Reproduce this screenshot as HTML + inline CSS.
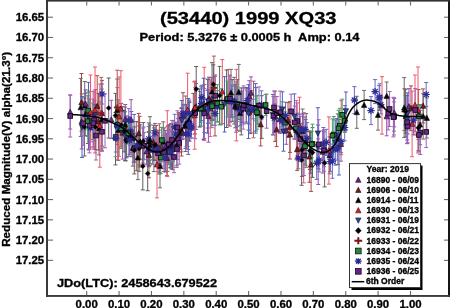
<!DOCTYPE html><html><head><meta charset="utf-8"><style>html,body{margin:0;padding:0;background:#fff;width:450px;height:308px;overflow:hidden}svg{display:block;filter:blur(0.3px)}text{font-family:"Liberation Sans",sans-serif;font-weight:bold;stroke:#000;stroke-width:0.32px;paint-order:stroke}</style></head><body>
<svg width="450" height="308" viewBox="0 0 450 308">
<rect width="450" height="308" fill="#fff"/>
<g stroke-width="1" fill="none"><path d="M125.3,104.5V134.0M123.3,104.5H127.3M123.3,134.0H127.3" stroke="#9a50b4"/><path d="M161.7,127.4V166.1M159.7,127.4H163.7M159.7,166.1H163.7" stroke="#9a50b4"/><path d="M249.3,80.7V112.1M247.3,80.7H251.3M247.3,112.1H251.3" stroke="#9a50b4"/><path d="M199.9,91.6V126.3M197.9,91.6H201.9M197.9,126.3H201.9" stroke="#9a50b4"/><path d="M131.3,111.5V152.4M129.3,111.5H133.3M129.3,152.4H133.3" stroke="#9a50b4"/><path d="M122.6,106.4V159.1M120.6,106.4H124.6M120.6,159.1H124.6" stroke="#9a50b4"/><path d="M111.3,100.3V138.6M109.3,100.3H113.3M109.3,138.6H113.3" stroke="#9a50b4"/><path d="M81.7,93.9V148.9M79.7,93.9H83.7M79.7,148.9H83.7" stroke="#9a50b4"/><path d="M322.7,130.8V173.0M320.7,130.8H324.7M320.7,173.0H324.7" stroke="#9a50b4"/><path d="M318.2,138.9V184.5M316.2,138.9H320.2M316.2,184.5H320.2" stroke="#9a50b4"/><path d="M186.5,104.9V148.3M184.5,104.9H188.5M184.5,148.3H188.5" stroke="#9a50b4"/><path d="M229.8,75.9V126.1M227.8,75.9H231.8M227.8,126.1H231.8" stroke="#9a50b4"/><path d="M305.6,119.5V165.2M303.6,119.5H307.6M303.6,165.2H307.6" stroke="#9a50b4"/><path d="M128.9,116.8V156.5M126.9,116.8H130.9M126.9,156.5H130.9" stroke="#9a50b4"/><path d="M158.3,136.2V165.0M156.3,136.2H160.3M156.3,165.0H160.3" stroke="#9a50b4"/><path d="M196.1,83.5V129.5M194.1,83.5H198.1M194.1,129.5H198.1" stroke="#9a50b4"/><path d="M149.1,132.3V166.8M147.1,132.3H151.1M147.1,166.8H151.1" stroke="#9a50b4"/><path d="M169.2,124.6V162.7M167.2,124.6H171.2M167.2,162.7H171.2" stroke="#9a50b4"/><path d="M189.3,101.3V140.1M187.3,101.3H191.3M187.3,140.1H191.3" stroke="#9a50b4"/><path d="M131.1,99.7V140.2M129.1,99.7H133.1M129.1,140.2H133.1" stroke="#9a50b4"/><path d="M142.8,128.0V162.9M140.8,128.0H144.8M140.8,162.9H144.8" stroke="#9a50b4"/><path d="M94.3,100.6V141.2M92.3,100.6H96.3M92.3,141.2H96.3" stroke="#9a50b4"/><path d="M152.9,130.6V160.0M150.9,130.6H154.9M150.9,160.0H154.9" stroke="#9a50b4"/><path d="M126.2,115.9V143.8M124.2,115.9H128.2M124.2,143.8H128.2" stroke="#9a50b4"/><path d="M95.4,89.6V135.4M93.4,89.6H97.4M93.4,135.4H97.4" stroke="#9a50b4"/><path d="M279.6,106.1V132.6M277.6,106.1H281.6M277.6,132.6H281.6" stroke="#9a50b4"/><path d="M180.6,116.2V149.7M178.6,116.2H182.6M178.6,149.7H182.6" stroke="#9a50b4"/><path d="M345.1,105.6V131.9M343.1,105.6H347.1M343.1,131.9H347.1" stroke="#9a50b4"/><path d="M179.3,114.3V148.1M177.3,114.3H181.3M177.3,148.1H181.3" stroke="#9a50b4"/><path d="M211.7,77.7V119.7M209.7,77.7H213.7M209.7,119.7H213.7" stroke="#9a50b4"/><path d="M181.4,108.6V151.8M179.4,108.6H183.4M179.4,151.8H183.4" stroke="#a84848"/><path d="M102.0,80.4V146.2M100.0,80.4H104.0M100.0,146.2H104.0" stroke="#a84848"/><path d="M423.1,88.9V123.0M421.1,88.9H425.1M421.1,123.0H425.1" stroke="#a84848"/><path d="M215.0,76.3V135.9M213.0,76.3H217.0M213.0,135.9H217.0" stroke="#a84848"/><path d="M98.4,93.3V150.1M96.4,93.3H100.4M96.4,150.1H100.4" stroke="#a84848"/><path d="M164.2,127.9V171.5M162.2,127.9H166.2M162.2,171.5H166.2" stroke="#a84848"/><path d="M311.1,138.1V191.4M309.1,138.1H313.1M309.1,191.4H313.1" stroke="#a84848"/><path d="M181.5,107.7V156.0M179.5,107.7H183.5M179.5,156.0H183.5" stroke="#a84848"/><path d="M178.7,112.4V152.8M176.7,112.4H180.7M176.7,152.8H180.7" stroke="#a84848"/><path d="M237.3,79.6V130.4M235.3,79.6H239.3M235.3,130.4H239.3" stroke="#a84848"/><path d="M275.1,91.1V141.4M273.1,91.1H277.1M273.1,141.4H277.1" stroke="#a84848"/><path d="M167.0,140.4V175.7M165.0,140.4H169.0M165.0,175.7H169.0" stroke="#a84848"/><path d="M97.2,75.7V136.4M95.2,75.7H99.2M95.2,136.4H99.2" stroke="#a84848"/><path d="M411.0,85.9V130.7M409.0,85.9H413.0M409.0,130.7H413.0" stroke="#a84848"/><path d="M209.0,77.2V119.8M207.0,77.2H211.0M207.0,119.8H211.0" stroke="#a84848"/><path d="M194.5,81.9V134.1M192.5,81.9H196.5M192.5,134.1H196.5" stroke="#a84848"/><path d="M149.0,132.2V177.8M147.0,132.2H151.0M147.0,177.8H151.0" stroke="#a84848"/><path d="M418.4,89.5V139.3M416.4,89.5H420.4M416.4,139.3H420.4" stroke="#a84848"/><path d="M156.3,125.5V165.1M154.3,125.5H158.3M154.3,165.1H158.3" stroke="#a84848"/><path d="M139.6,116.3V167.0M137.6,116.3H141.6M137.6,167.0H141.6" stroke="#a84848"/><path d="M81.5,73.5V131.2M79.5,73.5H83.5M79.5,131.2H83.5" stroke="#a84848"/><path d="M139.3,122.7V164.9M137.3,122.7H141.3M137.3,164.9H141.3" stroke="#a84848"/><path d="M136.3,121.5V170.8M134.3,121.5H138.3M134.3,170.8H138.3" stroke="#a84848"/><path d="M153.5,125.2V159.7M151.5,125.2H155.5M151.5,159.7H155.5" stroke="#a84848"/><path d="M183.0,92.7V138.9M181.0,92.7H185.0M181.0,138.9H185.0" stroke="#a84848"/><path d="M167.5,126.7V171.4M165.5,126.7H169.5M165.5,171.4H169.5" stroke="#a84848"/><path d="M132.8,129.8V166.1M130.8,129.8H134.8M130.8,166.1H134.8" stroke="#6a6a6a"/><path d="M101.8,89.0V150.3M99.8,89.0H103.8M99.8,150.3H103.8" stroke="#6a6a6a"/><path d="M132.0,120.0V156.8M130.0,120.0H134.0M130.0,156.8H134.0" stroke="#6a6a6a"/><path d="M204.4,84.6V132.4M202.4,84.6H206.4M202.4,132.4H206.4" stroke="#6a6a6a"/><path d="M207.6,79.2V128.0M205.6,79.2H209.6M205.6,128.0H209.6" stroke="#6a6a6a"/><path d="M153.9,127.9V171.6M151.9,127.9H155.9M151.9,171.6H155.9" stroke="#6a6a6a"/><path d="M140.3,124.8V159.0M138.3,124.8H142.3M138.3,159.0H142.3" stroke="#6a6a6a"/><path d="M231.0,69.3V116.2M229.0,69.3H233.0M229.0,116.2H233.0" stroke="#6a6a6a"/><path d="M234.2,77.3V124.0M232.2,77.3H236.2M232.2,124.0H236.2" stroke="#6a6a6a"/><path d="M420.1,104.7V144.7M418.1,104.7H422.1M418.1,144.7H422.1" stroke="#6a6a6a"/><path d="M238.8,64.4V119.6M236.8,64.4H240.8M236.8,119.6H240.8" stroke="#6a6a6a"/><path d="M125.2,107.0V142.6M123.2,107.0H127.2M123.2,142.6H127.2" stroke="#6a6a6a"/><path d="M118.3,99.9V160.4M116.3,99.9H120.3M116.3,160.4H120.3" stroke="#6a6a6a"/><path d="M302.6,109.0V153.0M300.6,109.0H304.6M300.6,153.0H304.6" stroke="#6a6a6a"/><path d="M99.0,101.9V154.9M97.0,101.9H101.0M97.0,154.9H101.0" stroke="#6a6a6a"/><path d="M87.9,95.8V143.5M85.9,95.8H89.9M85.9,143.5H89.9" stroke="#6a6a6a"/><path d="M168.3,125.5V164.7M166.3,125.5H170.3M166.3,164.7H170.3" stroke="#6a6a6a"/><path d="M185.7,96.0V151.5M183.7,96.0H187.7M183.7,151.5H187.7" stroke="#6a6a6a"/><path d="M404.4,88.8V130.6M402.4,88.8H406.4M402.4,130.6H406.4" stroke="#6a6a6a"/><path d="M171.1,123.5V167.6M169.1,123.5H173.1M169.1,167.6H173.1" stroke="#6a6a6a"/><path d="M240.1,94.9V131.2M238.1,94.9H242.1M238.1,131.2H242.1" stroke="#6a6a6a"/><path d="M186.3,104.4V146.8M184.3,104.4H188.3M184.3,146.8H188.3" stroke="#6a6a6a"/><path d="M246.4,87.5V123.2M244.4,87.5H248.4M244.4,123.2H248.4" stroke="#6a6a6a"/><path d="M149.7,124.8V165.4M147.7,124.8H151.7M147.7,165.4H151.7" stroke="#6a6a6a"/><path d="M405.7,95.4V136.8M403.7,95.4H407.7M403.7,136.8H407.7" stroke="#6a6a6a"/><path d="M159.1,130.1V174.1M157.1,130.1H161.1M157.1,174.1H161.1" stroke="#6a6a6a"/><path d="M85.3,93.3V135.6M83.3,93.3H87.3M83.3,135.6H87.3" stroke="#6a6a6a"/><path d="M88.8,91.1V149.1M86.8,91.1H90.8M86.8,149.1H90.8" stroke="#6a6a6a"/><path d="M306.2,113.6V167.3M304.2,113.6H308.2M304.2,167.3H308.2" stroke="#6a6a6a"/><path d="M163.3,121.8V161.7M161.3,121.8H165.3M161.3,161.7H165.3" stroke="#6a6a6a"/><path d="M329.6,136.9V173.9M327.6,136.9H331.6M327.6,173.9H331.6" stroke="#6a6a6a"/><path d="M84.7,81.5V129.8M82.7,81.5H86.7M82.7,129.8H86.7" stroke="#6a6a6a"/><path d="M93.1,91.6V147.0M91.1,91.6H95.1M91.1,147.0H95.1" stroke="#f0586a"/><path d="M210.3,79.8V136.6M208.3,79.8H212.3M208.3,136.6H212.3" stroke="#f0586a"/><path d="M167.3,110.7V176.6M165.3,110.7H169.3M165.3,176.6H169.3" stroke="#f0586a"/><path d="M382.0,76.7V134.1M380.0,76.7H384.0M380.0,134.1H384.0" stroke="#f0586a"/><path d="M119.2,76.9V156.3M117.2,76.9H121.2M117.2,156.3H121.2" stroke="#f0586a"/><path d="M187.6,73.2V146.4M185.6,73.2H189.6M185.6,146.4H189.6" stroke="#f0586a"/><path d="M412.1,91.1V156.7M410.1,91.1H414.1M410.1,156.7H414.1" stroke="#f0586a"/><path d="M341.2,100.7V154.7M339.2,100.7H343.2M339.2,154.7H343.2" stroke="#f0586a"/><path d="M194.7,81.5V149.2M192.7,81.5H196.7M192.7,149.2H196.7" stroke="#f0586a"/><path d="M236.4,69.4V140.9M234.4,69.4H238.4M234.4,140.9H238.4" stroke="#f0586a"/><path d="M303.7,112.6V182.9M301.7,112.6H305.7M301.7,182.9H305.7" stroke="#f0586a"/><path d="M299.5,97.2V154.2M297.5,97.2H301.5M297.5,154.2H301.5" stroke="#f0586a"/><path d="M204.2,67.3V140.6M202.2,67.3H206.2M202.2,140.6H206.2" stroke="#f0586a"/><path d="M173.1,120.7V167.3M171.1,120.7H175.1M171.1,167.3H175.1" stroke="#f0586a"/><path d="M296.4,100.5V159.4M294.4,100.5H298.4M294.4,159.4H298.4" stroke="#f0586a"/><path d="M117.4,87.6V159.7M115.4,87.6H119.4M115.4,159.7H119.4" stroke="#f0586a"/><path d="M99.8,84.0V167.2M97.8,84.0H101.8M97.8,167.2H101.8" stroke="#f0586a"/><path d="M208.0,79.2V123.3M206.0,79.2H210.0M206.0,123.3H210.0" stroke="#5060c0"/><path d="M318.1,125.0V168.6M316.1,125.0H320.1M316.1,168.6H320.1" stroke="#5060c0"/><path d="M207.5,90.4V133.2M205.5,90.4H209.5M205.5,133.2H209.5" stroke="#5060c0"/><path d="M339.0,119.5V175.0M337.0,119.5H341.0M337.0,175.0H341.0" stroke="#5060c0"/><path d="M255.6,83.6V133.2M253.6,83.6H257.6M253.6,133.2H257.6" stroke="#5060c0"/><path d="M294.4,93.9V139.1M292.4,93.9H296.4M292.4,139.1H296.4" stroke="#5060c0"/><path d="M272.9,94.5V134.8M270.9,94.5H274.9M270.9,134.8H274.9" stroke="#5060c0"/><path d="M407.1,95.6V143.6M405.1,95.6H409.1M405.1,143.6H409.1" stroke="#5060c0"/><path d="M188.3,98.6V154.4M186.3,98.6H190.3M186.3,154.4H190.3" stroke="#5060c0"/><path d="M256.0,87.6V131.1M254.0,87.6H258.0M254.0,131.1H258.0" stroke="#5060c0"/><path d="M335.3,119.9V165.1M333.3,119.9H337.3M333.3,165.1H337.3" stroke="#5060c0"/><path d="M181.8,100.5V139.6M179.8,100.5H183.8M179.8,139.6H183.8" stroke="#5060c0"/><path d="M407.7,92.9V134.0M405.7,92.9H409.7M405.7,134.0H409.7" stroke="#5060c0"/><path d="M283.5,111.8V151.2M281.5,111.8H285.5M281.5,151.2H285.5" stroke="#5060c0"/><path d="M250.1,92.4V133.7M248.1,92.4H252.1M248.1,133.7H252.1" stroke="#5060c0"/><path d="M224.5,76.6V132.0M222.5,76.6H226.5M222.5,132.0H226.5" stroke="#5060c0"/><path d="M88.5,82.4V149.9M86.5,82.4H90.5M86.5,149.9H90.5" stroke="#5060c0"/><path d="M282.4,91.8V126.8M280.4,91.8H284.4M280.4,126.8H284.4" stroke="#5060c0"/><path d="M297.8,113.1V156.8M295.8,113.1H299.8M295.8,156.8H299.8" stroke="#5060c0"/><path d="M310.6,132.5V173.3M308.6,132.5H312.6M308.6,173.3H312.6" stroke="#5060c0"/><path d="M125.0,111.8V160.6M123.0,111.8H127.0M123.0,160.6H127.0" stroke="#5060c0"/><path d="M134.1,114.4V162.2M132.1,114.4H136.1M132.1,162.2H136.1" stroke="#5060c0"/><path d="M317.9,107.7V159.2M315.9,107.7H319.9M315.9,159.2H319.9" stroke="#5060c0"/><path d="M203.6,78.2V139.5M201.6,78.2H205.6M201.6,139.5H205.6" stroke="#5060c0"/><path d="M165.7,130.3V171.9M163.7,130.3H167.7M163.7,171.9H167.7" stroke="#5060c0"/><path d="M193.3,93.4V129.7M191.3,93.4H195.3M191.3,129.7H195.3" stroke="#5e5e5e"/><path d="M143.3,122.6V159.8M141.3,122.6H145.3M141.3,159.8H145.3" stroke="#5e5e5e"/><path d="M324.6,139.0V186.9M322.6,139.0H326.6M322.6,186.9H326.6" stroke="#5e5e5e"/><path d="M226.6,70.0V127.5M224.6,70.0H228.6M224.6,127.5H228.6" stroke="#5e5e5e"/><path d="M219.6,66.4V124.8M217.6,66.4H221.6M217.6,124.8H221.6" stroke="#5e5e5e"/><path d="M115.5,112.5V164.9M113.5,112.5H117.5M113.5,164.9H117.5" stroke="#5e5e5e"/><path d="M171.4,131.1V168.7M169.4,131.1H173.4M169.4,168.7H173.4" stroke="#5e5e5e"/><path d="M310.0,131.4V169.5M308.0,131.4H312.0M308.0,169.5H312.0" stroke="#5e5e5e"/><path d="M125.8,119.3V160.9M123.8,119.3H127.8M123.8,160.9H127.8" stroke="#5e5e5e"/><path d="M148.5,131.8V166.0M146.5,131.8H150.5M146.5,166.0H150.5" stroke="#5e5e5e"/><path d="M126.6,124.7V157.8M124.6,124.7H128.6M124.6,157.8H128.6" stroke="#5e5e5e"/><path d="M199.7,88.9V127.1M197.7,88.9H201.7M197.7,127.1H201.7" stroke="#5e5e5e"/><path d="M124.1,110.4V151.9M122.1,110.4H126.1M122.1,151.9H126.1" stroke="#5e5e5e"/><path d="M312.5,127.7V177.4M310.5,127.7H314.5M310.5,177.4H314.5" stroke="#5e5e5e"/><path d="M115.5,93.4V137.6M113.5,93.4H117.5M113.5,137.6H117.5" stroke="#5e5e5e"/><path d="M241.3,87.9V134.9M239.3,87.9H243.3M239.3,134.9H243.3" stroke="#5e5e5e"/><path d="M121.2,103.4V146.8M119.2,103.4H123.2M119.2,146.8H123.2" stroke="#5e5e5e"/><path d="M139.1,125.9V171.3M137.1,125.9H141.1M137.1,171.3H141.1" stroke="#5e5e5e"/><path d="M189.4,102.6V141.2M187.4,102.6H191.4M187.4,141.2H191.4" stroke="#5e5e5e"/><path d="M158.5,132.6V163.5M156.5,132.6H160.5M156.5,163.5H160.5" stroke="#5e5e5e"/><path d="M172.5,126.9V169.7M170.5,126.9H174.5M170.5,169.7H174.5" stroke="#5e5e5e"/><path d="M129.8,119.5V154.2M127.8,119.5H131.8M127.8,154.2H131.8" stroke="#5e5e5e"/><path d="M337.9,113.9V164.6M335.9,113.9H339.9M335.9,164.6H339.9" stroke="#5e5e5e"/><path d="M232.2,79.6V121.3M230.2,79.6H234.2M230.2,121.3H234.2" stroke="#5e5e5e"/><path d="M242.1,91.1V122.5M240.1,91.1H244.1M240.1,122.5H244.1" stroke="#5e5e5e"/><path d="M405.6,89.3V133.1M403.6,89.3H407.6M403.6,133.1H407.6" stroke="#5e5e5e"/><path d="M261.7,95.7V138.4M259.7,95.7H263.7M259.7,138.4H263.7" stroke="#5e5e5e"/><path d="M302.0,123.3V176.4M300.0,123.3H304.0M300.0,176.4H304.0" stroke="#5e5e5e"/><path d="M301.6,134.7V185.3M299.6,134.7H303.6M299.6,185.3H303.6" stroke="#5e5e5e"/><path d="M251.1,90.7V132.9M249.1,90.7H253.1M249.1,132.9H253.1" stroke="#b05a5a"/><path d="M213.9,56.1V119.7M211.9,56.1H215.9M211.9,119.7H215.9" stroke="#b05a5a"/><path d="M101.2,77.4V148.9M99.2,77.4H103.2M99.2,148.9H103.2" stroke="#b05a5a"/><path d="M159.4,123.8V172.4M157.4,123.8H161.4M157.4,172.4H161.4" stroke="#b05a5a"/><path d="M253.5,81.2V137.8M251.5,81.2H255.5M251.5,137.8H255.5" stroke="#b05a5a"/><path d="M228.3,69.5V125.2M226.3,69.5H230.3M226.3,125.2H230.3" stroke="#b05a5a"/><path d="M312.5,124.2V163.6M310.5,124.2H314.5M310.5,163.6H314.5" stroke="#48a064"/><path d="M121.0,107.7V148.5M119.0,107.7H123.0M119.0,148.5H123.0" stroke="#48a064"/><path d="M117.1,111.1V139.0M115.1,111.1H119.1M115.1,139.0H119.1" stroke="#48a064"/><path d="M257.7,103.0V123.6M255.7,103.0H259.7M255.7,123.6H259.7" stroke="#48a064"/><path d="M394.0,101.9V131.2M392.0,101.9H396.0M392.0,131.2H396.0" stroke="#48a064"/><path d="M201.5,87.1V126.0M199.5,87.1H203.5M199.5,126.0H203.5" stroke="#48a064"/><path d="M285.0,111.9V133.4M283.0,111.9H287.0M283.0,133.4H287.0" stroke="#48a064"/><path d="M256.0,96.1V120.8M254.0,96.1H258.0M254.0,120.8H258.0" stroke="#48a064"/><path d="M305.0,128.3V164.0M303.0,128.3H307.0M303.0,164.0H307.0" stroke="#48a064"/><path d="M87.6,105.8V136.5M85.6,105.8H89.6M85.6,136.5H89.6" stroke="#48a064"/><path d="M160.8,141.5V173.6M158.8,141.5H162.8M158.8,173.6H162.8" stroke="#48a064"/><path d="M92.2,102.9V139.5M90.2,102.9H94.2M90.2,139.5H94.2" stroke="#48a064"/><path d="M295.9,117.9V139.1M293.9,117.9H297.9M293.9,139.1H297.9" stroke="#48a064"/><path d="M172.7,136.4V161.8M170.7,136.4H174.7M170.7,161.8H174.7" stroke="#48a064"/><path d="M237.2,86.8V121.6M235.2,86.8H239.2M235.2,121.6H239.2" stroke="#48a064"/><path d="M88.2,92.7V128.4M86.2,92.7H90.2M86.2,128.4H90.2" stroke="#48a064"/><path d="M282.1,101.8V131.4M280.1,101.8H284.1M280.1,131.4H284.1" stroke="#48a064"/><path d="M200.7,94.6V122.3M198.7,94.6H202.7M198.7,122.3H202.7" stroke="#48a064"/><path d="M169.8,136.6V167.8M167.8,136.6H171.8M167.8,167.8H171.8" stroke="#48a064"/><path d="M161.8,127.4V152.7M159.8,127.4H163.8M159.8,152.7H163.8" stroke="#48a064"/><path d="M115.6,117.3V156.7M113.6,117.3H117.6M113.6,156.7H117.6" stroke="#48a064"/><path d="M227.4,81.2V117.0M225.4,81.2H229.4M225.4,117.0H229.4" stroke="#48a064"/><path d="M172.8,134.5V160.5M170.8,134.5H174.8M170.8,160.5H174.8" stroke="#48a064"/><path d="M282.0,110.1V132.3M280.0,110.1H284.0M280.0,132.3H284.0" stroke="#6a6ac0"/><path d="M323.4,127.5V160.1M321.4,127.5H325.4M321.4,160.1H325.4" stroke="#6a6ac0"/><path d="M237.2,89.8V126.7M235.2,89.8H239.2M235.2,126.7H239.2" stroke="#6a6ac0"/><path d="M316.7,146.9V179.4M314.7,146.9H318.7M314.7,179.4H318.7" stroke="#6a6ac0"/><path d="M148.8,126.6V151.3M146.8,126.6H150.8M146.8,151.3H150.8" stroke="#6a6ac0"/><path d="M247.3,90.1V111.1M245.3,90.1H249.3M245.3,111.1H249.3" stroke="#6a6ac0"/><path d="M333.7,138.4V159.4M331.7,138.4H335.7M331.7,159.4H335.7" stroke="#6a6ac0"/><path d="M240.4,95.1V125.4M238.4,95.1H242.4M238.4,125.4H242.4" stroke="#6a6ac0"/><path d="M144.1,132.6V159.2M142.1,132.6H146.1M142.1,159.2H146.1" stroke="#6a6ac0"/><path d="M261.4,90.8V119.1M259.4,90.8H263.4M259.4,119.1H263.4" stroke="#6a6ac0"/><path d="M298.4,147.3V168.8M296.4,147.3H300.4M296.4,168.8H300.4" stroke="#6a6ac0"/><path d="M174.7,114.3V139.6M172.7,114.3H176.7M172.7,139.6H176.7" stroke="#6a6ac0"/><path d="M170.5,136.9V167.2M168.5,136.9H172.5M168.5,167.2H172.5" stroke="#6a6ac0"/><path d="M379.7,83.8V110.5M377.7,83.8H381.7M377.7,110.5H381.7" stroke="#6a6ac0"/><path d="M137.1,133.0V158.2M135.1,133.0H139.1M135.1,158.2H139.1" stroke="#6a6ac0"/><path d="M305.1,116.9V141.9M303.1,116.9H307.1M303.1,141.9H307.1" stroke="#6a6ac0"/><path d="M128.8,108.7V131.5M126.8,108.7H130.8M126.8,131.5H130.8" stroke="#6a6ac0"/><path d="M413.5,105.7V134.8M411.5,105.7H415.5M411.5,134.8H415.5" stroke="#6a6ac0"/><path d="M326.2,129.3V155.4M324.2,129.3H328.2M324.2,155.4H328.2" stroke="#6a6ac0"/><path d="M285.5,102.2V128.5M283.5,102.2H287.5M283.5,128.5H287.5" stroke="#6a6ac0"/><path d="M185.5,119.0V148.6M183.5,119.0H187.5M183.5,148.6H187.5" stroke="#6a6ac0"/><path d="M129.7,125.6V154.8M127.7,125.6H131.7M127.7,154.8H131.7" stroke="#6a6ac0"/><path d="M152.6,136.2V164.2M150.6,136.2H154.6M150.6,164.2H154.6" stroke="#6a6ac0"/><path d="M90.6,113.6V141.8M88.6,113.6H92.6M88.6,141.8H92.6" stroke="#6a6ac0"/><path d="M190.8,118.2V138.2M188.8,118.2H192.8M188.8,138.2H192.8" stroke="#6a6ac0"/><path d="M115.8,124.1V152.0M113.8,124.1H117.8M113.8,152.0H117.8" stroke="#6a6ac0"/><path d="M189.3,100.0V126.8M187.3,100.0H191.3M187.3,126.8H191.3" stroke="#6a6ac0"/><path d="M249.0,99.0V124.0M247.0,99.0H251.0M247.0,124.0H251.0" stroke="#6a6ac0"/><path d="M157.7,134.9V163.0M155.7,134.9H159.7M155.7,163.0H159.7" stroke="#6a6ac0"/><path d="M166.5,133.4V162.4M164.5,133.4H168.5M164.5,162.4H168.5" stroke="#6a6ac0"/><path d="M94.4,104.9V128.7M92.4,104.9H96.4M92.4,128.7H96.4" stroke="#6a6ac0"/><path d="M344.7,114.2V140.8M342.7,114.2H346.7M342.7,140.8H346.7" stroke="#6a6ac0"/><path d="M130.3,117.2V145.2M128.3,117.2H132.3M128.3,145.2H132.3" stroke="#6a6ac0"/><path d="M274.3,103.7V132.5M272.3,103.7H276.3M272.3,132.5H276.3" stroke="#6a6ac0"/><path d="M234.8,86.3V116.9M232.8,86.3H236.8M232.8,116.9H236.8" stroke="#6a6ac0"/><path d="M231.3,89.0V114.6M229.3,89.0H233.3M229.3,114.6H233.3" stroke="#6a6ac0"/><path d="M165.3,143.2V171.8M163.3,143.2H167.3M163.3,171.8H167.3" stroke="#6a6ac0"/><path d="M336.7,118.5V151.4M334.7,118.5H338.7M334.7,151.4H338.7" stroke="#6a6ac0"/><path d="M188.3,118.5V149.4M186.3,118.5H190.3M186.3,149.4H190.3" stroke="#6a6ac0"/><path d="M330.4,136.7V171.3M328.4,136.7H332.4M328.4,171.3H332.4" stroke="#6a6ac0"/><path d="M172.9,136.2V157.9M170.9,136.2H174.9M170.9,157.9H174.9" stroke="#6a6ac0"/><path d="M117.5,114.3V138.9M115.5,114.3H119.5M115.5,138.9H119.5" stroke="#6a6ac0"/><path d="M208.8,92.8V123.1M206.8,92.8H210.8M206.8,123.1H210.8" stroke="#6a6ac0"/><path d="M201.4,86.2V120.5M199.4,86.2H203.4M199.4,120.5H203.4" stroke="#6a6ac0"/><path d="M253.1,99.2V118.9M251.1,99.2H255.1M251.1,118.9H255.1" stroke="#6a6ac0"/><path d="M302.8,113.9V145.9M300.8,113.9H304.8M300.8,145.9H304.8" stroke="#6a6ac0"/><path d="M299.8,114.2V143.9M297.8,114.2H301.8M297.8,143.9H301.8" stroke="#6a6ac0"/><path d="M189.6,112.0V135.7M187.6,112.0H191.6M187.6,135.7H191.6" stroke="#6a6ac0"/><path d="M217.2,90.7V121.9M215.2,90.7H219.2M215.2,121.9H219.2" stroke="#6a6ac0"/><path d="M379.1,85.6V110.3M377.1,85.6H381.1M377.1,110.3H381.1" stroke="#6a6ac0"/><path d="M158.1,134.8V171.7M156.1,134.8H160.1M156.1,171.7H160.1" stroke="#a060b8"/><path d="M177.4,110.8V144.2M175.4,110.8H179.4M175.4,144.2H179.4" stroke="#a060b8"/><path d="M266.6,94.1V128.2M264.6,94.1H268.6M264.6,128.2H268.6" stroke="#a060b8"/><path d="M236.0,81.8V132.2M234.0,81.8H238.0M234.0,132.2H238.0" stroke="#a060b8"/><path d="M243.2,87.9V129.2M241.2,87.9H245.2M241.2,129.2H245.2" stroke="#a060b8"/><path d="M211.9,82.2V127.7M209.9,82.2H213.9M209.9,127.7H213.9" stroke="#a060b8"/><path d="M170.0,129.7V161.5M168.0,129.7H172.0M168.0,161.5H172.0" stroke="#a060b8"/><path d="M195.2,87.4V138.7M193.2,87.4H197.2M193.2,138.7H197.2" stroke="#a060b8"/><path d="M177.9,118.5V159.6M175.9,118.5H179.9M175.9,159.6H179.9" stroke="#a060b8"/><path d="M215.3,74.9V116.6M213.3,74.9H217.3M213.3,116.6H217.3" stroke="#a060b8"/><path d="M273.4,96.5V135.0M271.4,96.5H275.4M271.4,135.0H275.4" stroke="#a060b8"/><path d="M94.1,91.1V149.0M92.1,91.1H96.1M92.1,149.0H96.1" stroke="#a060b8"/><path d="M179.2,121.6V164.2M177.2,121.6H181.2M177.2,164.2H181.2" stroke="#a060b8"/><path d="M259.0,86.9V124.6M257.0,86.9H261.0M257.0,124.6H261.0" stroke="#a060b8"/><path d="M143.7,127.0V164.1M141.7,127.0H145.7M141.7,164.1H145.7" stroke="#a060b8"/><path d="M300.4,116.3V161.7M298.4,116.3H302.4M298.4,161.7H302.4" stroke="#a060b8"/><path d="M168.8,128.0V161.2M166.8,128.0H170.8M166.8,161.2H170.8" stroke="#a060b8"/><path d="M246.2,88.8V122.0M244.2,88.8H248.2M244.2,122.0H248.2" stroke="#a060b8"/><path d="M276.8,96.5V129.6M274.8,96.5H278.8M274.8,129.6H278.8" stroke="#a060b8"/><path d="M89.4,98.6V152.9M87.4,98.6H91.4M87.4,152.9H91.4" stroke="#a060b8"/><path d="M93.4,99.2V147.2M91.4,99.2H95.4M91.4,147.2H95.4" stroke="#a060b8"/><path d="M230.0,75.0V122.2M228.0,75.0H232.0M228.0,122.2H232.0" stroke="#a060b8"/><path d="M70.2,95.0V129.0M68.2,95.0H72.2M68.2,129.0H72.2" stroke="#9a50b4"/><path d="M85.6,89.8V117.8M83.6,89.8H87.6M83.6,117.8H87.6" stroke="#9a50b4"/><path d="M133.8,134.0V162.0M131.8,134.0H135.8M131.8,162.0H135.8" stroke="#9a50b4"/><path d="M146.5,138.5V164.7M144.5,138.5H148.5M144.5,164.7H148.5" stroke="#9a50b4"/><path d="M208.4,89.8V142.2M206.4,89.8H210.4M206.4,142.2H210.4" stroke="#9a50b4"/><path d="M251.0,76.9V108.7M249.0,76.9H253.0M249.0,108.7H253.0" stroke="#9a50b4"/><path d="M286.3,116.9V144.3M284.3,116.9H288.3M284.3,144.3H288.3" stroke="#9a50b4"/><path d="M341.0,127.0V161.2M339.0,127.0H343.0M339.0,161.2H343.0" stroke="#9a50b4"/><path d="M386.7,97.0V135.8M384.7,97.0H388.7M384.7,135.8H388.7" stroke="#9a50b4"/><path d="M394.3,98.6V126.8M392.3,98.6H396.3M392.3,126.8H396.3" stroke="#9a50b4"/><path d="M408.9,88.6V124.2M406.9,88.6H410.9M406.9,124.2H410.9" stroke="#9a50b4"/><path d="M138.7,113.4V153.2M136.7,113.4H140.7M136.7,153.2H140.7" stroke="#a84848"/><path d="M260.7,103.1V145.9M258.7,103.1H262.7M258.7,145.9H262.7" stroke="#a84848"/><path d="M276.6,112.2V146.6M274.6,112.2H278.6M274.6,146.6H278.6" stroke="#a84848"/><path d="M288.0,102.7V137.3M286.0,102.7H290.0M286.0,137.3H290.0" stroke="#a84848"/><path d="M290.0,101.6V152.4M288.0,101.6H292.0M288.0,152.4H292.0" stroke="#a84848"/><path d="M289.9,110.2V159.0M287.9,110.2H291.9M287.9,159.0H291.9" stroke="#a84848"/><path d="M297.2,128.2V170.4M295.2,128.2H299.2M295.2,170.4H299.2" stroke="#a84848"/><path d="M309.4,130.9V182.3M307.4,130.9H311.4M307.4,182.3H311.4" stroke="#a84848"/><path d="M80.7,78.4V136.4M78.7,78.4H82.7M78.7,136.4H82.7" stroke="#6a6a6a"/><path d="M137.9,135.8V179.6M135.9,135.8H139.9M135.9,179.6H139.9" stroke="#6a6a6a"/><path d="M148.9,122.9V160.7M146.9,122.9H150.9M146.9,160.7H150.9" stroke="#6a6a6a"/><path d="M150.0,116.7V163.3M148.0,116.7H152.0M148.0,163.3H152.0" stroke="#6a6a6a"/><path d="M160.0,144.2V187.8M158.0,144.2H162.0M158.0,187.8H162.0" stroke="#6a6a6a"/><path d="M176.8,122.7V167.3M174.8,122.7H178.8M174.8,167.3H178.8" stroke="#6a6a6a"/><path d="M212.0,62.6V120.6M210.0,62.6H214.0M210.0,120.6H214.0" stroke="#6a6a6a"/><path d="M235.2,84.6V127.8M233.2,84.6H237.2M233.2,127.8H237.2" stroke="#6a6a6a"/><path d="M364.1,90.4V119.6M362.1,90.4H366.1M362.1,119.6H366.1" stroke="#6a6a6a"/><path d="M356.8,96.3V128.3M354.8,96.3H358.8M354.8,128.3H358.8" stroke="#6a6a6a"/><path d="M386.7,82.0V110.0M384.7,82.0H388.7M384.7,110.0H388.7" stroke="#6a6a6a"/><path d="M378.0,99.9V130.1M376.0,99.9H380.0M376.0,130.1H380.0" stroke="#6a6a6a"/><path d="M404.2,77.6V137.6M402.2,77.6H406.2M402.2,137.6H406.2" stroke="#6a6a6a"/><path d="M426.8,98.0V138.0M424.8,98.0H428.8M424.8,138.0H428.8" stroke="#6a6a6a"/><path d="M423.2,93.7V139.1M421.2,93.7H425.2M421.2,139.1H425.2" stroke="#6a6a6a"/><path d="M117.2,79.0V141.0M115.2,79.0H119.2M115.2,141.0H119.2" stroke="#6a6a6a"/><path d="M157.0,131.3V197.9M155.0,131.3H159.0M155.0,197.9H159.0" stroke="#f0586a"/><path d="M222.3,59.6V123.6M220.3,59.6H224.3M220.3,123.6H224.3" stroke="#f0586a"/><path d="M195.0,81.1V133.7M193.0,81.1H197.0M193.0,133.7H197.0" stroke="#f0586a"/><path d="M328.9,116.9V184.1M326.9,116.9H330.9M326.9,184.1H330.9" stroke="#f0586a"/><path d="M415.0,75.0V135.0M413.0,75.0H417.0M413.0,135.0H417.0" stroke="#f0586a"/><path d="M418.0,67.0V153.0M416.0,67.0H420.0M416.0,153.0H420.0" stroke="#f0586a"/><path d="M95.0,67.0V153.0M93.0,67.0H97.0M93.0,153.0H97.0" stroke="#f0586a"/><path d="M90.5,75.0V149.0M88.5,75.0H92.5M88.5,149.0H92.5" stroke="#f0586a"/><path d="M120.9,70.7V146.7M118.9,70.7H122.9M118.9,146.7H122.9" stroke="#f0586a"/><path d="M82.0,96.6V157.4M80.0,96.6H84.0M80.0,157.4H84.0" stroke="#5060c0"/><path d="M248.5,88.4V138.6M246.5,88.4H250.5M246.5,138.6H250.5" stroke="#5060c0"/><path d="M248.5,84.7V130.1M246.5,84.7H250.5M246.5,130.1H250.5" stroke="#5060c0"/><path d="M345.9,92.0V130.2M343.9,92.0H347.9M343.9,130.2H347.9" stroke="#5060c0"/><path d="M84.4,98.0V156.0M82.4,98.0H86.4M82.4,156.0H86.4" stroke="#5e5e5e"/><path d="M95.4,104.5V149.5M93.4,104.5H97.4M93.4,149.5H97.4" stroke="#5e5e5e"/><path d="M134.3,126.9V173.9M132.3,126.9H136.3M132.3,173.9H136.3" stroke="#5e5e5e"/><path d="M142.8,142.5V189.9M140.8,142.5H144.8M140.8,189.9H144.8" stroke="#5e5e5e"/><path d="M147.7,156.3V190.7M145.7,156.3H149.7M145.7,190.7H149.7" stroke="#5e5e5e"/><path d="M155.0,129.4V160.6M153.0,129.4H157.0M153.0,160.6H157.0" stroke="#5e5e5e"/><path d="M213.3,64.8V103.8M211.3,64.8H215.3M211.3,103.8H215.3" stroke="#5e5e5e"/><path d="M196.2,66.5V111.7M194.2,66.5H198.2M194.2,111.7H198.2" stroke="#5e5e5e"/><path d="M418.3,104.8V150.8M416.3,104.8H420.3M416.3,150.8H420.3" stroke="#5e5e5e"/><path d="M108.7,78.0V138.0M106.7,78.0H110.7M106.7,138.0H110.7" stroke="#5e5e5e"/><path d="M117.2,70.2V144.6M115.2,70.2H119.2M115.2,144.6H119.2" stroke="#b05a5a"/><path d="M128.2,122.8V143.8M126.2,122.8H130.2M126.2,143.8H130.2" stroke="#48a064"/><path d="M212.0,87.0V125.4M210.0,87.0H214.0M210.0,125.4H214.0" stroke="#48a064"/><path d="M217.4,84.7V121.9M215.4,84.7H219.4M215.4,121.9H219.4" stroke="#48a064"/><path d="M221.3,88.7V124.7M219.3,88.7H223.3M219.3,124.7H223.3" stroke="#48a064"/><path d="M257.0,95.4V129.2M255.0,95.4H259.0M255.0,129.2H259.0" stroke="#48a064"/><path d="M265.6,94.4V115.6M263.6,94.4H267.6M263.6,115.6H267.6" stroke="#48a064"/><path d="M311.8,131.2V157.6M309.8,131.2H313.8M309.8,157.6H313.8" stroke="#48a064"/><path d="M333.8,116.5V152.5M331.8,116.5H335.8M331.8,152.5H335.8" stroke="#48a064"/><path d="M342.2,99.2V130.4M340.2,99.2H344.2M340.2,130.4H344.2" stroke="#48a064"/><path d="M339.8,108.3V143.1M337.8,108.3H341.8M337.8,143.1H341.8" stroke="#48a064"/><path d="M344.6,109.4V132.4M342.6,109.4H346.6M342.6,132.4H346.6" stroke="#48a064"/><path d="M332.4,118.9V152.3M330.4,118.9H334.4M330.4,152.3H334.4" stroke="#48a064"/><path d="M338.5,110.2V146.4M336.5,110.2H340.5M336.5,146.4H340.5" stroke="#48a064"/><path d="M418.9,105.5V127.3M416.9,105.5H420.9M416.9,127.3H420.9" stroke="#48a064"/><path d="M102.0,84.0V104.0M100.0,84.0H104.0M100.0,104.0H104.0" stroke="#6a6ac0"/><path d="M184.0,104.4V124.8M182.0,104.4H186.0M182.0,124.8H186.0" stroke="#6a6ac0"/><path d="M191.5,115.8V137.8M189.5,115.8H193.5M189.5,137.8H193.5" stroke="#6a6ac0"/><path d="M175.6,122.2V145.8M173.6,122.2H177.6M173.6,145.8H177.6" stroke="#6a6ac0"/><path d="M155.0,123.4V142.6M153.0,123.4H157.0M153.0,142.6H157.0" stroke="#6a6ac0"/><path d="M201.8,85.2V110.2M199.8,85.2H203.8M199.8,110.2H203.8" stroke="#6a6ac0"/><path d="M215.0,101.8V125.2M213.0,101.8H217.0M213.0,125.2H217.0" stroke="#6a6ac0"/><path d="M231.6,85.1V117.5M229.6,85.1H233.6M229.6,117.5H233.6" stroke="#6a6ac0"/><path d="M183.0,104.9V122.1M181.0,104.9H185.0M181.0,122.1H185.0" stroke="#6a6ac0"/><path d="M307.0,122.6V154.0M305.0,122.6H309.0M305.0,154.0H309.0" stroke="#6a6ac0"/><path d="M319.1,148.6V171.8M317.1,148.6H321.1M317.1,171.8H321.1" stroke="#6a6ac0"/><path d="M330.1,151.2V171.8M328.1,151.2H332.1M328.1,171.8H332.1" stroke="#6a6ac0"/><path d="M324.0,131.9V166.7M322.0,131.9H326.0M322.0,166.7H326.0" stroke="#6a6ac0"/><path d="M375.1,79.6V103.6M373.1,79.6H377.1M373.1,103.6H377.1" stroke="#6a6ac0"/><path d="M371.0,96.6V124.6M369.0,96.6H373.0M369.0,124.6H373.0" stroke="#6a6ac0"/><path d="M354.4,86.6V113.6M352.4,86.6H356.4M352.4,113.6H356.4" stroke="#6a6ac0"/><path d="M332.4,144.1V178.3M330.4,144.1H334.4M330.4,178.3H334.4" stroke="#6a6ac0"/><path d="M337.3,137.9V160.1M335.3,137.9H339.3M335.3,160.1H339.3" stroke="#6a6ac0"/><path d="M341.0,130.8V152.6M339.0,130.8H343.0M339.0,152.6H343.0" stroke="#6a6ac0"/><path d="M380.8,95.5V113.9M378.8,95.5H382.8M378.8,113.9H382.8" stroke="#6a6ac0"/><path d="M407.2,110.4V140.0M405.2,110.4H409.2M405.2,140.0H409.2" stroke="#6a6ac0"/><path d="M426.2,82.5V106.5M424.2,82.5H428.2M424.2,106.5H428.2" stroke="#6a6ac0"/><path d="M70.2,95.0V137.0M68.2,95.0H72.2M68.2,137.0H72.2" stroke="#a060b8"/><path d="M83.2,101.3V145.3M81.2,101.3H85.2M81.2,145.3H85.2" stroke="#a060b8"/><path d="M96.0,111.0V160.0M94.0,111.0H98.0M94.0,160.0H98.0" stroke="#a060b8"/><path d="M102.0,112.3V151.3M100.0,112.3H104.0M100.0,151.3H104.0" stroke="#a060b8"/><path d="M105.0,93.8V147.8M103.0,93.8H107.0M103.0,147.8H107.0" stroke="#a060b8"/><path d="M172.0,120.4V159.6M170.0,120.4H174.0M170.0,159.6H174.0" stroke="#a060b8"/><path d="M177.0,132.7V165.3M175.0,132.7H179.0M175.0,165.3H179.0" stroke="#a060b8"/><path d="M164.0,135.2V168.8M162.0,135.2H166.0M162.0,168.8H166.0" stroke="#a060b8"/><path d="M174.0,141.3V172.7M172.0,141.3H176.0M172.0,172.7H176.0" stroke="#a060b8"/><path d="M204.3,88.6V138.4M202.3,88.6H206.3M202.3,138.4H206.3" stroke="#a060b8"/><path d="M243.7,85.9V124.1M241.7,85.9H245.7M241.7,124.1H245.7" stroke="#a060b8"/><path d="M274.0,91.1V123.7M272.0,91.1H276.0M272.0,123.7H276.0" stroke="#a060b8"/><path d="M280.2,91.1V133.5M278.2,91.1H282.2M278.2,133.5H282.2" stroke="#a060b8"/><path d="M291.1,94.2V128.4M289.1,94.2H293.1M289.1,128.4H293.1" stroke="#a060b8"/><path d="M297.2,102.9V139.1M295.2,102.9H299.2M295.2,139.1H299.2" stroke="#a060b8"/><path d="M294.8,106.0V138.8M292.8,106.0H296.8M292.8,138.8H296.8" stroke="#a060b8"/><path d="M304.0,135.2V175.6M302.0,135.2H306.0M302.0,175.6H306.0" stroke="#a060b8"/><path d="M318.7,119.7V169.1M316.7,119.7H320.7M316.7,169.1H320.7" stroke="#a060b8"/><path d="M324.0,129.8V171.2M322.0,129.8H326.0M322.0,171.2H326.0" stroke="#a060b8"/><path d="M388.2,97.1V129.9M386.2,97.1H390.2M386.2,129.9H390.2" stroke="#a060b8"/><path d="M394.0,97.8V135.0M392.0,97.8H396.0M392.0,135.0H396.0" stroke="#a060b8"/><path d="M389.6,91.5V126.5M387.6,91.5H391.6M387.6,126.5H391.6" stroke="#a060b8"/><path d="M407.2,100.8V143.6M405.2,100.8H409.2M405.2,143.6H409.2" stroke="#a060b8"/><path d="M407.7,110.5V142.7M405.7,110.5H409.7M405.7,142.7H409.7" stroke="#a060b8"/><path d="M420.3,110.5V154.5M418.3,110.5H422.3M418.3,154.5H422.3" stroke="#a060b8"/><path d="M426.2,116.2V147.6M424.2,116.2H428.2M424.2,147.6H428.2" stroke="#a060b8"/><path d="M415.2,88.6V131.4M413.2,88.6H417.2M413.2,131.4H417.2" stroke="#a060b8"/><path d="M393.4,97.3V136.9M391.4,97.3H395.4M391.4,136.9H395.4" stroke="#a060b8"/><path d="M418.9,118.3V151.7M416.9,118.3H420.9M416.9,151.7H420.9" stroke="#a060b8"/></g><path d="M122.6,121.7L128.0,121.7L125.3,116.5Z" fill="#6d2590" stroke="#111" stroke-width="0.6"/><path d="M159.0,149.2L164.4,149.2L161.7,144.0Z" fill="#6d2590" stroke="#111" stroke-width="0.6"/><path d="M246.6,98.8L252.0,98.8L249.3,93.6Z" fill="#6d2590" stroke="#111" stroke-width="0.6"/><path d="M197.2,111.3L202.6,111.3L199.9,106.1Z" fill="#6d2590" stroke="#111" stroke-width="0.6"/><path d="M128.6,134.4L134.0,134.4L131.3,129.2Z" fill="#6d2590" stroke="#111" stroke-width="0.6"/><path d="M119.9,135.2L125.3,135.2L122.6,130.0Z" fill="#6d2590" stroke="#111" stroke-width="0.6"/><path d="M108.6,121.9L114.0,121.9L111.3,116.7Z" fill="#6d2590" stroke="#111" stroke-width="0.6"/><path d="M79.0,123.8L84.4,123.8L81.7,118.6Z" fill="#6d2590" stroke="#111" stroke-width="0.6"/><path d="M320.0,154.3L325.4,154.3L322.7,149.1Z" fill="#6d2590" stroke="#111" stroke-width="0.6"/><path d="M315.5,164.1L320.9,164.1L318.2,158.9Z" fill="#6d2590" stroke="#111" stroke-width="0.6"/><path d="M183.8,129.0L189.2,129.0L186.5,123.8Z" fill="#6d2590" stroke="#111" stroke-width="0.6"/><path d="M227.1,103.4L232.5,103.4L229.8,98.2Z" fill="#6d2590" stroke="#111" stroke-width="0.6"/><path d="M302.9,144.7L308.3,144.7L305.6,139.5Z" fill="#6d2590" stroke="#111" stroke-width="0.6"/><path d="M126.2,139.0L131.6,139.0L128.9,133.8Z" fill="#6d2590" stroke="#111" stroke-width="0.6"/><path d="M155.6,153.0L161.0,153.0L158.3,147.8Z" fill="#6d2590" stroke="#111" stroke-width="0.6"/><path d="M193.4,108.9L198.8,108.9L196.1,103.7Z" fill="#6d2590" stroke="#111" stroke-width="0.6"/><path d="M146.4,151.9L151.8,151.9L149.1,146.7Z" fill="#6d2590" stroke="#111" stroke-width="0.6"/><path d="M166.5,146.1L171.9,146.1L169.2,140.9Z" fill="#6d2590" stroke="#111" stroke-width="0.6"/><path d="M186.6,123.1L192.0,123.1L189.3,117.9Z" fill="#6d2590" stroke="#111" stroke-width="0.6"/><path d="M128.4,122.3L133.8,122.3L131.1,117.1Z" fill="#6d2590" stroke="#111" stroke-width="0.6"/><path d="M140.1,147.9L145.5,147.9L142.8,142.7Z" fill="#6d2590" stroke="#111" stroke-width="0.6"/><path d="M91.6,123.3L97.0,123.3L94.3,118.1Z" fill="#6d2590" stroke="#111" stroke-width="0.6"/><path d="M150.2,147.7L155.6,147.7L152.9,142.5Z" fill="#6d2590" stroke="#111" stroke-width="0.6"/><path d="M123.5,132.3L128.9,132.3L126.2,127.1Z" fill="#6d2590" stroke="#111" stroke-width="0.6"/><path d="M92.7,114.9L98.1,114.9L95.4,109.7Z" fill="#6d2590" stroke="#111" stroke-width="0.6"/><path d="M276.9,121.8L282.3,121.8L279.6,116.6Z" fill="#6d2590" stroke="#111" stroke-width="0.6"/><path d="M177.9,135.4L183.3,135.4L180.6,130.2Z" fill="#6d2590" stroke="#111" stroke-width="0.6"/><path d="M342.4,121.2L347.8,121.2L345.1,116.0Z" fill="#6d2590" stroke="#111" stroke-width="0.6"/><path d="M176.6,133.6L182.0,133.6L179.3,128.4Z" fill="#6d2590" stroke="#111" stroke-width="0.6"/><path d="M209.0,101.1L214.4,101.1L211.7,95.9Z" fill="#6d2590" stroke="#111" stroke-width="0.6"/><path d="M178.7,132.6L184.1,132.6L181.4,127.4Z" fill="#7a1818" stroke="#111" stroke-width="0.6"/><path d="M99.3,115.7L104.7,115.7L102.0,110.5Z" fill="#7a1818" stroke="#111" stroke-width="0.6"/><path d="M420.4,108.3L425.8,108.3L423.1,103.1Z" fill="#7a1818" stroke="#111" stroke-width="0.6"/><path d="M212.3,108.5L217.7,108.5L215.0,103.3Z" fill="#7a1818" stroke="#111" stroke-width="0.6"/><path d="M95.7,124.1L101.1,124.1L98.4,118.9Z" fill="#7a1818" stroke="#111" stroke-width="0.6"/><path d="M161.5,152.1L166.9,152.1L164.2,146.9Z" fill="#7a1818" stroke="#111" stroke-width="0.6"/><path d="M308.4,167.1L313.8,167.1L311.1,161.9Z" fill="#7a1818" stroke="#111" stroke-width="0.6"/><path d="M178.8,134.2L184.2,134.2L181.5,129.0Z" fill="#7a1818" stroke="#111" stroke-width="0.6"/><path d="M176.0,135.0L181.4,135.0L178.7,129.8Z" fill="#7a1818" stroke="#111" stroke-width="0.6"/><path d="M234.6,107.4L240.0,107.4L237.3,102.2Z" fill="#7a1818" stroke="#111" stroke-width="0.6"/><path d="M272.4,118.6L277.8,118.6L275.1,113.4Z" fill="#7a1818" stroke="#111" stroke-width="0.6"/><path d="M164.3,160.5L169.7,160.5L167.0,155.3Z" fill="#7a1818" stroke="#111" stroke-width="0.6"/><path d="M94.5,108.4L99.9,108.4L97.2,103.2Z" fill="#7a1818" stroke="#111" stroke-width="0.6"/><path d="M408.3,110.7L413.7,110.7L411.0,105.5Z" fill="#7a1818" stroke="#111" stroke-width="0.6"/><path d="M206.3,100.9L211.7,100.9L209.0,95.7Z" fill="#7a1818" stroke="#111" stroke-width="0.6"/><path d="M191.8,110.4L197.2,110.4L194.5,105.2Z" fill="#7a1818" stroke="#111" stroke-width="0.6"/><path d="M146.3,157.4L151.7,157.4L149.0,152.2Z" fill="#7a1818" stroke="#111" stroke-width="0.6"/><path d="M415.7,116.8L421.1,116.8L418.4,111.6Z" fill="#7a1818" stroke="#111" stroke-width="0.6"/><path d="M153.6,147.7L159.0,147.7L156.3,142.5Z" fill="#7a1818" stroke="#111" stroke-width="0.6"/><path d="M136.9,144.0L142.3,144.0L139.6,138.8Z" fill="#7a1818" stroke="#111" stroke-width="0.6"/><path d="M78.8,104.8L84.2,104.8L81.5,99.6Z" fill="#7a1818" stroke="#111" stroke-width="0.6"/><path d="M136.6,146.2L142.0,146.2L139.3,141.0Z" fill="#7a1818" stroke="#111" stroke-width="0.6"/><path d="M133.6,148.6L139.0,148.6L136.3,143.4Z" fill="#7a1818" stroke="#111" stroke-width="0.6"/><path d="M150.8,144.8L156.2,144.8L153.5,139.6Z" fill="#7a1818" stroke="#111" stroke-width="0.6"/><path d="M180.3,118.2L185.7,118.2L183.0,113.0Z" fill="#7a1818" stroke="#111" stroke-width="0.6"/><path d="M164.8,151.4L170.2,151.4L167.5,146.2Z" fill="#7a1818" stroke="#111" stroke-width="0.6"/><path d="M130.1,150.3L135.5,150.3L132.8,145.1Z" fill="#050505" stroke="#111" stroke-width="0.6"/><path d="M99.1,122.0L104.5,122.0L101.8,116.8Z" fill="#050505" stroke="#111" stroke-width="0.6"/><path d="M129.3,140.8L134.7,140.8L132.0,135.6Z" fill="#050505" stroke="#111" stroke-width="0.6"/><path d="M201.7,110.9L207.1,110.9L204.4,105.7Z" fill="#050505" stroke="#111" stroke-width="0.6"/><path d="M204.9,106.0L210.3,106.0L207.6,100.8Z" fill="#050505" stroke="#111" stroke-width="0.6"/><path d="M151.2,152.2L156.6,152.2L153.9,147.0Z" fill="#050505" stroke="#111" stroke-width="0.6"/><path d="M137.6,144.3L143.0,144.3L140.3,139.1Z" fill="#050505" stroke="#111" stroke-width="0.6"/><path d="M228.3,95.1L233.7,95.1L231.0,89.9Z" fill="#050505" stroke="#111" stroke-width="0.6"/><path d="M231.5,103.1L236.9,103.1L234.2,97.9Z" fill="#050505" stroke="#111" stroke-width="0.6"/><path d="M417.4,127.1L422.8,127.1L420.1,121.9Z" fill="#050505" stroke="#111" stroke-width="0.6"/><path d="M236.1,94.4L241.5,94.4L238.8,89.2Z" fill="#050505" stroke="#111" stroke-width="0.6"/><path d="M122.5,127.2L127.9,127.2L125.2,122.0Z" fill="#050505" stroke="#111" stroke-width="0.6"/><path d="M115.6,132.6L121.0,132.6L118.3,127.4Z" fill="#050505" stroke="#111" stroke-width="0.6"/><path d="M299.9,133.4L305.3,133.4L302.6,128.2Z" fill="#050505" stroke="#111" stroke-width="0.6"/><path d="M96.3,130.8L101.7,130.8L99.0,125.6Z" fill="#050505" stroke="#111" stroke-width="0.6"/><path d="M85.2,122.1L90.6,122.1L87.9,116.9Z" fill="#050505" stroke="#111" stroke-width="0.6"/><path d="M165.6,147.5L171.0,147.5L168.3,142.3Z" fill="#050505" stroke="#111" stroke-width="0.6"/><path d="M183.0,126.1L188.4,126.1L185.7,120.9Z" fill="#050505" stroke="#111" stroke-width="0.6"/><path d="M401.7,112.1L407.1,112.1L404.4,106.9Z" fill="#050505" stroke="#111" stroke-width="0.6"/><path d="M168.4,147.9L173.8,147.9L171.1,142.7Z" fill="#050505" stroke="#111" stroke-width="0.6"/><path d="M237.4,115.5L242.8,115.5L240.1,110.3Z" fill="#050505" stroke="#111" stroke-width="0.6"/><path d="M183.6,128.0L189.0,128.0L186.3,122.8Z" fill="#050505" stroke="#111" stroke-width="0.6"/><path d="M243.7,107.8L249.1,107.8L246.4,102.6Z" fill="#050505" stroke="#111" stroke-width="0.6"/><path d="M147.0,147.5L152.4,147.5L149.7,142.3Z" fill="#050505" stroke="#111" stroke-width="0.6"/><path d="M403.0,118.5L408.4,118.5L405.7,113.3Z" fill="#050505" stroke="#111" stroke-width="0.6"/><path d="M156.4,154.5L161.8,154.5L159.1,149.3Z" fill="#050505" stroke="#111" stroke-width="0.6"/><path d="M82.6,116.8L88.0,116.8L85.3,111.6Z" fill="#050505" stroke="#111" stroke-width="0.6"/><path d="M86.1,122.5L91.5,122.5L88.8,117.3Z" fill="#050505" stroke="#111" stroke-width="0.6"/><path d="M303.5,142.9L308.9,142.9L306.2,137.7Z" fill="#050505" stroke="#111" stroke-width="0.6"/><path d="M160.6,144.2L166.0,144.2L163.3,139.0Z" fill="#050505" stroke="#111" stroke-width="0.6"/><path d="M326.9,157.8L332.3,157.8L329.6,152.6Z" fill="#050505" stroke="#111" stroke-width="0.6"/><path d="M82.0,108.1L87.4,108.1L84.7,102.9Z" fill="#050505" stroke="#111" stroke-width="0.6"/><path d="M90.4,121.7L95.8,121.7L93.1,116.5Z" fill="#e8202c" stroke="#111" stroke-width="0.6"/><path d="M207.6,110.6L213.0,110.6L210.3,105.4Z" fill="#e8202c" stroke="#111" stroke-width="0.6"/><path d="M164.6,146.0L170.0,146.0L167.3,140.8Z" fill="#e8202c" stroke="#111" stroke-width="0.6"/><path d="M379.3,107.8L384.7,107.8L382.0,102.6Z" fill="#e8202c" stroke="#111" stroke-width="0.6"/><path d="M116.5,119.0L121.9,119.0L119.2,113.8Z" fill="#e8202c" stroke="#111" stroke-width="0.6"/><path d="M184.9,112.2L190.3,112.2L187.6,107.0Z" fill="#e8202c" stroke="#111" stroke-width="0.6"/><path d="M409.4,126.3L414.8,126.3L412.1,121.1Z" fill="#e8202c" stroke="#111" stroke-width="0.6"/><path d="M338.5,130.1L343.9,130.1L341.2,124.9Z" fill="#e8202c" stroke="#111" stroke-width="0.6"/><path d="M192.0,117.7L197.4,117.7L194.7,112.5Z" fill="#e8202c" stroke="#111" stroke-width="0.6"/><path d="M233.7,107.6L239.1,107.6L236.4,102.4Z" fill="#e8202c" stroke="#111" stroke-width="0.6"/><path d="M301.0,150.1L306.4,150.1L303.7,144.9Z" fill="#e8202c" stroke="#111" stroke-width="0.6"/><path d="M296.8,128.1L302.2,128.1L299.5,122.9Z" fill="#e8202c" stroke="#111" stroke-width="0.6"/><path d="M201.5,106.3L206.9,106.3L204.2,101.1Z" fill="#e8202c" stroke="#111" stroke-width="0.6"/><path d="M170.4,146.4L175.8,146.4L173.1,141.2Z" fill="#e8202c" stroke="#111" stroke-width="0.6"/><path d="M293.7,132.4L299.1,132.4L296.4,127.2Z" fill="#e8202c" stroke="#111" stroke-width="0.6"/><path d="M114.7,126.1L120.1,126.1L117.4,120.9Z" fill="#e8202c" stroke="#111" stroke-width="0.6"/><path d="M97.1,128.0L102.5,128.0L99.8,122.8Z" fill="#e8202c" stroke="#111" stroke-width="0.6"/><path d="M205.3,98.8L210.7,98.8L208.0,104.0Z" fill="#2a46a8" stroke="#111" stroke-width="0.6"/><path d="M315.4,144.4L320.8,144.4L318.1,149.6Z" fill="#2a46a8" stroke="#111" stroke-width="0.6"/><path d="M204.8,109.4L210.2,109.4L207.5,114.6Z" fill="#2a46a8" stroke="#111" stroke-width="0.6"/><path d="M336.3,144.9L341.7,144.9L339.0,150.1Z" fill="#2a46a8" stroke="#111" stroke-width="0.6"/><path d="M252.9,106.0L258.3,106.0L255.6,111.2Z" fill="#2a46a8" stroke="#111" stroke-width="0.6"/><path d="M291.7,114.1L297.1,114.1L294.4,119.3Z" fill="#2a46a8" stroke="#111" stroke-width="0.6"/><path d="M270.2,112.2L275.6,112.2L272.9,117.4Z" fill="#2a46a8" stroke="#111" stroke-width="0.6"/><path d="M404.4,117.2L409.8,117.2L407.1,122.4Z" fill="#2a46a8" stroke="#111" stroke-width="0.6"/><path d="M185.6,124.1L191.0,124.1L188.3,129.3Z" fill="#2a46a8" stroke="#111" stroke-width="0.6"/><path d="M253.3,106.9L258.7,106.9L256.0,112.1Z" fill="#2a46a8" stroke="#111" stroke-width="0.6"/><path d="M332.6,140.1L338.0,140.1L335.3,145.3Z" fill="#2a46a8" stroke="#111" stroke-width="0.6"/><path d="M179.1,117.7L184.5,117.7L181.8,122.9Z" fill="#2a46a8" stroke="#111" stroke-width="0.6"/><path d="M405.0,111.0L410.4,111.0L407.7,116.2Z" fill="#2a46a8" stroke="#111" stroke-width="0.6"/><path d="M280.8,129.1L286.2,129.1L283.5,134.3Z" fill="#2a46a8" stroke="#111" stroke-width="0.6"/><path d="M247.4,110.6L252.8,110.6L250.1,115.8Z" fill="#2a46a8" stroke="#111" stroke-width="0.6"/><path d="M221.8,101.9L227.2,101.9L224.5,107.1Z" fill="#2a46a8" stroke="#111" stroke-width="0.6"/><path d="M85.8,113.7L91.2,113.7L88.5,118.9Z" fill="#2a46a8" stroke="#111" stroke-width="0.6"/><path d="M279.7,106.9L285.1,106.9L282.4,112.1Z" fill="#2a46a8" stroke="#111" stroke-width="0.6"/><path d="M295.1,132.5L300.5,132.5L297.8,137.7Z" fill="#2a46a8" stroke="#111" stroke-width="0.6"/><path d="M307.9,150.5L313.3,150.5L310.6,155.7Z" fill="#2a46a8" stroke="#111" stroke-width="0.6"/><path d="M122.3,133.8L127.7,133.8L125.0,139.0Z" fill="#2a46a8" stroke="#111" stroke-width="0.6"/><path d="M131.4,135.9L136.8,135.9L134.1,141.1Z" fill="#2a46a8" stroke="#111" stroke-width="0.6"/><path d="M315.2,131.0L320.6,131.0L317.9,136.2Z" fill="#2a46a8" stroke="#111" stroke-width="0.6"/><path d="M200.9,106.5L206.3,106.5L203.6,111.7Z" fill="#2a46a8" stroke="#111" stroke-width="0.6"/><path d="M163.0,148.7L168.4,148.7L165.7,153.9Z" fill="#2a46a8" stroke="#111" stroke-width="0.6"/><path d="M193.3,108.9L195.8,111.5L193.3,114.1L190.8,111.5Z" fill="#000000" stroke="#111" stroke-width="0.4"/><path d="M143.3,138.6L145.8,141.2L143.3,143.8L140.8,141.2Z" fill="#000000" stroke="#111" stroke-width="0.4"/><path d="M324.6,160.3L327.1,162.9L324.6,165.5L322.1,162.9Z" fill="#000000" stroke="#111" stroke-width="0.4"/><path d="M226.6,96.2L229.1,98.8L226.6,101.4L224.1,98.8Z" fill="#000000" stroke="#111" stroke-width="0.4"/><path d="M219.6,93.0L222.1,95.6L219.6,98.2L217.1,95.6Z" fill="#000000" stroke="#111" stroke-width="0.4"/><path d="M115.5,136.1L118.0,138.7L115.5,141.3L113.0,138.7Z" fill="#000000" stroke="#111" stroke-width="0.4"/><path d="M171.4,147.3L173.9,149.9L171.4,152.5L168.9,149.9Z" fill="#000000" stroke="#111" stroke-width="0.4"/><path d="M310.0,147.9L312.5,150.5L310.0,153.1L307.5,150.5Z" fill="#000000" stroke="#111" stroke-width="0.4"/><path d="M125.8,137.5L128.3,140.1L125.8,142.7L123.3,140.1Z" fill="#000000" stroke="#111" stroke-width="0.4"/><path d="M148.5,146.3L151.0,148.9L148.5,151.5L146.0,148.9Z" fill="#000000" stroke="#111" stroke-width="0.4"/><path d="M126.6,138.6L129.1,141.2L126.6,143.8L124.1,141.2Z" fill="#000000" stroke="#111" stroke-width="0.4"/><path d="M199.7,105.4L202.2,108.0L199.7,110.6L197.2,108.0Z" fill="#000000" stroke="#111" stroke-width="0.4"/><path d="M124.1,128.6L126.6,131.2L124.1,133.8L121.6,131.2Z" fill="#000000" stroke="#111" stroke-width="0.4"/><path d="M312.5,150.0L315.0,152.6L312.5,155.2L310.0,152.6Z" fill="#000000" stroke="#111" stroke-width="0.4"/><path d="M115.5,112.9L118.0,115.5L115.5,118.1L113.0,115.5Z" fill="#000000" stroke="#111" stroke-width="0.4"/><path d="M241.3,108.8L243.8,111.4L241.3,114.0L238.8,111.4Z" fill="#000000" stroke="#111" stroke-width="0.4"/><path d="M121.2,122.5L123.7,125.1L121.2,127.7L118.7,125.1Z" fill="#000000" stroke="#111" stroke-width="0.4"/><path d="M139.1,146.0L141.6,148.6L139.1,151.2L136.6,148.6Z" fill="#000000" stroke="#111" stroke-width="0.4"/><path d="M189.4,119.3L191.9,121.9L189.4,124.5L186.9,121.9Z" fill="#000000" stroke="#111" stroke-width="0.4"/><path d="M158.5,145.5L161.0,148.1L158.5,150.7L156.0,148.1Z" fill="#000000" stroke="#111" stroke-width="0.4"/><path d="M172.5,145.7L175.0,148.3L172.5,150.9L170.0,148.3Z" fill="#000000" stroke="#111" stroke-width="0.4"/><path d="M129.8,134.2L132.3,136.8L129.8,139.4L127.3,136.8Z" fill="#000000" stroke="#111" stroke-width="0.4"/><path d="M337.9,136.7L340.4,139.3L337.9,141.9L335.4,139.3Z" fill="#000000" stroke="#111" stroke-width="0.4"/><path d="M232.2,97.9L234.7,100.5L232.2,103.1L229.7,100.5Z" fill="#000000" stroke="#111" stroke-width="0.4"/><path d="M242.1,104.2L244.6,106.8L242.1,109.4L239.6,106.8Z" fill="#000000" stroke="#111" stroke-width="0.4"/><path d="M405.6,108.6L408.1,111.2L405.6,113.8L403.1,111.2Z" fill="#000000" stroke="#111" stroke-width="0.4"/><path d="M261.7,114.5L264.2,117.1L261.7,119.7L259.2,117.1Z" fill="#000000" stroke="#111" stroke-width="0.4"/><path d="M302.0,147.3L304.5,149.9L302.0,152.5L299.5,149.9Z" fill="#000000" stroke="#111" stroke-width="0.4"/><path d="M301.6,157.4L304.1,160.0L301.6,162.6L299.1,160.0Z" fill="#000000" stroke="#111" stroke-width="0.4"/><path d="M247.8,111.8H254.4M251.1,108.8V114.8" stroke="#8a1a1a" stroke-width="1.7" fill="none"/><path d="M210.6,87.9H217.2M213.9,84.9V90.9" stroke="#8a1a1a" stroke-width="1.7" fill="none"/><path d="M97.9,113.2H104.5M101.2,110.2V116.2" stroke="#8a1a1a" stroke-width="1.7" fill="none"/><path d="M156.1,148.1H162.7M159.4,145.1V151.1" stroke="#8a1a1a" stroke-width="1.7" fill="none"/><path d="M250.2,109.5H256.8M253.5,106.5V112.5" stroke="#8a1a1a" stroke-width="1.7" fill="none"/><path d="M225.0,97.3H231.6M228.3,94.3V100.3" stroke="#8a1a1a" stroke-width="1.7" fill="none"/><rect x="310.2" y="141.6" width="4.6" height="4.6" fill="#1f8a3e" stroke="#111" stroke-width="0.9"/><rect x="118.7" y="125.8" width="4.6" height="4.6" fill="#1f8a3e" stroke="#111" stroke-width="0.9"/><rect x="114.8" y="122.7" width="4.6" height="4.6" fill="#1f8a3e" stroke="#111" stroke-width="0.9"/><rect x="255.4" y="111.0" width="4.6" height="4.6" fill="#1f8a3e" stroke="#111" stroke-width="0.9"/><rect x="391.7" y="114.3" width="4.6" height="4.6" fill="#1f8a3e" stroke="#111" stroke-width="0.9"/><rect x="199.2" y="104.3" width="4.6" height="4.6" fill="#1f8a3e" stroke="#111" stroke-width="0.9"/><rect x="282.7" y="120.4" width="4.6" height="4.6" fill="#1f8a3e" stroke="#111" stroke-width="0.9"/><rect x="253.7" y="106.2" width="4.6" height="4.6" fill="#1f8a3e" stroke="#111" stroke-width="0.9"/><rect x="302.7" y="143.9" width="4.6" height="4.6" fill="#1f8a3e" stroke="#111" stroke-width="0.9"/><rect x="85.3" y="118.9" width="4.6" height="4.6" fill="#1f8a3e" stroke="#111" stroke-width="0.9"/><rect x="158.5" y="155.3" width="4.6" height="4.6" fill="#1f8a3e" stroke="#111" stroke-width="0.9"/><rect x="89.9" y="118.9" width="4.6" height="4.6" fill="#1f8a3e" stroke="#111" stroke-width="0.9"/><rect x="293.6" y="126.2" width="4.6" height="4.6" fill="#1f8a3e" stroke="#111" stroke-width="0.9"/><rect x="170.4" y="146.8" width="4.6" height="4.6" fill="#1f8a3e" stroke="#111" stroke-width="0.9"/><rect x="234.9" y="101.9" width="4.6" height="4.6" fill="#1f8a3e" stroke="#111" stroke-width="0.9"/><rect x="85.9" y="108.3" width="4.6" height="4.6" fill="#1f8a3e" stroke="#111" stroke-width="0.9"/><rect x="279.8" y="114.3" width="4.6" height="4.6" fill="#1f8a3e" stroke="#111" stroke-width="0.9"/><rect x="198.4" y="106.1" width="4.6" height="4.6" fill="#1f8a3e" stroke="#111" stroke-width="0.9"/><rect x="167.5" y="149.9" width="4.6" height="4.6" fill="#1f8a3e" stroke="#111" stroke-width="0.9"/><rect x="159.5" y="137.8" width="4.6" height="4.6" fill="#1f8a3e" stroke="#111" stroke-width="0.9"/><rect x="113.3" y="134.7" width="4.6" height="4.6" fill="#1f8a3e" stroke="#111" stroke-width="0.9"/><rect x="225.1" y="96.8" width="4.6" height="4.6" fill="#1f8a3e" stroke="#111" stroke-width="0.9"/><rect x="170.5" y="145.2" width="4.6" height="4.6" fill="#1f8a3e" stroke="#111" stroke-width="0.9"/><path d="M278.4,121.2H285.6M282.0,117.6V124.8M279.4,118.6L284.5,123.7M279.4,123.7L284.5,118.6" stroke="#2c2c96" stroke-width="1.2" fill="none"/><path d="M319.8,143.8H327.0M323.4,140.2V147.4M320.8,141.3L325.9,146.4M320.8,146.4L325.9,141.3" stroke="#2c2c96" stroke-width="1.2" fill="none"/><path d="M233.6,108.2H240.8M237.2,104.6V111.8M234.7,105.7L239.8,110.8M234.7,110.8L239.8,105.7" stroke="#2c2c96" stroke-width="1.2" fill="none"/><path d="M313.1,163.2H320.3M316.7,159.6V166.8M314.1,160.6L319.2,165.7M314.1,165.7L319.2,160.6" stroke="#2c2c96" stroke-width="1.2" fill="none"/><path d="M145.2,139.0H152.4M148.8,135.4V142.6M146.3,136.4L151.4,141.5M146.3,141.5L151.4,136.4" stroke="#2c2c96" stroke-width="1.2" fill="none"/><path d="M243.7,100.6H250.9M247.3,97.0V104.2M244.8,98.0L249.9,103.1M244.8,103.1L249.9,98.0" stroke="#2c2c96" stroke-width="1.2" fill="none"/><path d="M330.1,148.9H337.3M333.7,145.3V152.5M331.1,146.4L336.2,151.5M331.1,151.5L336.2,146.4" stroke="#2c2c96" stroke-width="1.2" fill="none"/><path d="M236.8,110.2H244.0M240.4,106.6V113.8M237.8,107.7L242.9,112.8M237.8,112.8L242.9,107.7" stroke="#2c2c96" stroke-width="1.2" fill="none"/><path d="M140.5,145.9H147.7M144.1,142.3V149.5M141.5,143.3L146.6,148.4M141.5,148.4L146.6,143.3" stroke="#2c2c96" stroke-width="1.2" fill="none"/><path d="M257.8,105.0H265.0M261.4,101.4V108.6M258.9,102.4L264.0,107.5M258.9,107.5L264.0,102.4" stroke="#2c2c96" stroke-width="1.2" fill="none"/><path d="M294.8,158.1H302.0M298.4,154.5V161.7M295.8,155.5L300.9,160.6M295.8,160.6L300.9,155.5" stroke="#2c2c96" stroke-width="1.2" fill="none"/><path d="M171.1,126.9H178.3M174.7,123.3V130.5M172.1,124.4L177.2,129.5M172.1,129.5L177.2,124.4" stroke="#2c2c96" stroke-width="1.2" fill="none"/><path d="M166.9,152.0H174.1M170.5,148.4V155.6M168.0,149.5L173.1,154.6M168.0,154.6L173.1,149.5" stroke="#2c2c96" stroke-width="1.2" fill="none"/><path d="M376.1,97.2H383.3M379.7,93.6V100.8M377.1,94.6L382.2,99.7M377.1,99.7L382.2,94.6" stroke="#2c2c96" stroke-width="1.2" fill="none"/><path d="M133.5,145.6H140.7M137.1,142.0V149.2M134.6,143.1L139.7,148.2M134.6,148.2L139.7,143.1" stroke="#2c2c96" stroke-width="1.2" fill="none"/><path d="M301.5,129.4H308.7M305.1,125.8V133.0M302.6,126.8L307.7,131.9M302.6,131.9L307.7,126.8" stroke="#2c2c96" stroke-width="1.2" fill="none"/><path d="M125.2,120.1H132.4M128.8,116.5V123.7M126.2,117.6L131.3,122.7M126.2,122.7L131.3,117.6" stroke="#2c2c96" stroke-width="1.2" fill="none"/><path d="M409.9,120.2H417.1M413.5,116.6V123.8M410.9,117.7L416.0,122.8M410.9,122.8L416.0,117.7" stroke="#2c2c96" stroke-width="1.2" fill="none"/><path d="M322.6,142.3H329.8M326.2,138.7V145.9M323.6,139.8L328.7,144.9M323.6,144.9L328.7,139.8" stroke="#2c2c96" stroke-width="1.2" fill="none"/><path d="M281.9,115.4H289.1M285.5,111.8V119.0M283.0,112.8L288.1,117.9M283.0,117.9L288.1,112.8" stroke="#2c2c96" stroke-width="1.2" fill="none"/><path d="M181.9,133.8H189.1M185.5,130.2V137.4M183.0,131.2L188.1,136.3M183.0,136.3L188.1,131.2" stroke="#2c2c96" stroke-width="1.2" fill="none"/><path d="M126.1,140.2H133.3M129.7,136.6V143.8M127.1,137.7L132.2,142.8M127.1,142.8L132.2,137.7" stroke="#2c2c96" stroke-width="1.2" fill="none"/><path d="M149.0,150.2H156.2M152.6,146.6V153.8M150.0,147.6L155.1,152.7M150.0,152.7L155.1,147.6" stroke="#2c2c96" stroke-width="1.2" fill="none"/><path d="M87.0,127.7H94.2M90.6,124.1V131.3M88.0,125.2L93.1,130.3M88.0,130.3L93.1,125.2" stroke="#2c2c96" stroke-width="1.2" fill="none"/><path d="M187.2,128.2H194.4M190.8,124.6V131.8M188.2,125.7L193.3,130.8M188.2,130.8L193.3,125.7" stroke="#2c2c96" stroke-width="1.2" fill="none"/><path d="M112.2,138.1H119.4M115.8,134.5V141.7M113.3,135.5L118.4,140.6M113.3,140.6L118.4,135.5" stroke="#2c2c96" stroke-width="1.2" fill="none"/><path d="M185.7,113.4H192.9M189.3,109.8V117.0M186.8,110.8L191.9,115.9M186.8,115.9L191.9,110.8" stroke="#2c2c96" stroke-width="1.2" fill="none"/><path d="M245.4,111.5H252.6M249.0,107.9V115.1M246.4,109.0L251.5,114.1M246.4,114.1L251.5,109.0" stroke="#2c2c96" stroke-width="1.2" fill="none"/><path d="M154.1,149.0H161.3M157.7,145.4V152.6M155.2,146.4L160.3,151.5M155.2,151.5L160.3,146.4" stroke="#2c2c96" stroke-width="1.2" fill="none"/><path d="M162.9,147.9H170.1M166.5,144.3V151.5M163.9,145.4L169.0,150.5M163.9,150.5L169.0,145.4" stroke="#2c2c96" stroke-width="1.2" fill="none"/><path d="M90.8,116.8H98.0M94.4,113.2V120.4M91.8,114.2L96.9,119.3M91.8,119.3L96.9,114.2" stroke="#2c2c96" stroke-width="1.2" fill="none"/><path d="M341.1,127.5H348.3M344.7,123.9V131.1M342.1,125.0L347.2,130.1M342.1,130.1L347.2,125.0" stroke="#2c2c96" stroke-width="1.2" fill="none"/><path d="M126.7,131.2H133.9M130.3,127.6V134.8M127.7,128.6L132.8,133.7M127.7,133.7L132.8,128.6" stroke="#2c2c96" stroke-width="1.2" fill="none"/><path d="M270.7,118.1H277.9M274.3,114.5V121.7M271.8,115.6L276.9,120.7M271.8,120.7L276.9,115.6" stroke="#2c2c96" stroke-width="1.2" fill="none"/><path d="M231.2,101.6H238.4M234.8,98.0V105.2M232.2,99.1L237.3,104.2M232.2,104.2L237.3,99.1" stroke="#2c2c96" stroke-width="1.2" fill="none"/><path d="M227.7,101.8H234.9M231.3,98.2V105.4M228.7,99.2L233.8,104.3M228.7,104.3L233.8,99.2" stroke="#2c2c96" stroke-width="1.2" fill="none"/><path d="M161.7,157.5H168.9M165.3,153.9V161.1M162.7,154.9L167.8,160.0M162.7,160.0L167.8,154.9" stroke="#2c2c96" stroke-width="1.2" fill="none"/><path d="M333.1,135.0H340.3M336.7,131.4V138.6M334.2,132.4L339.3,137.5M334.2,137.5L339.3,132.4" stroke="#2c2c96" stroke-width="1.2" fill="none"/><path d="M184.7,133.9H191.9M188.3,130.3V137.5M185.7,131.4L190.8,136.5M185.7,136.5L190.8,131.4" stroke="#2c2c96" stroke-width="1.2" fill="none"/><path d="M326.8,154.0H334.0M330.4,150.4V157.6M327.8,151.5L332.9,156.6M327.8,156.6L332.9,151.5" stroke="#2c2c96" stroke-width="1.2" fill="none"/><path d="M169.3,147.0H176.5M172.9,143.4V150.6M170.3,144.5L175.4,149.6M170.3,149.6L175.4,144.5" stroke="#2c2c96" stroke-width="1.2" fill="none"/><path d="M113.9,126.6H121.1M117.5,123.0V130.2M114.9,124.1L120.0,129.2M114.9,129.2L120.0,124.1" stroke="#2c2c96" stroke-width="1.2" fill="none"/><path d="M205.2,107.9H212.4M208.8,104.3V111.5M206.3,105.4L211.4,110.5M206.3,110.5L211.4,105.4" stroke="#2c2c96" stroke-width="1.2" fill="none"/><path d="M197.8,103.4H205.0M201.4,99.8V107.0M198.8,100.8L203.9,105.9M198.8,105.9L203.9,100.8" stroke="#2c2c96" stroke-width="1.2" fill="none"/><path d="M249.5,109.1H256.7M253.1,105.5V112.7M250.6,106.5L255.7,111.6M250.6,111.6L255.7,106.5" stroke="#2c2c96" stroke-width="1.2" fill="none"/><path d="M299.2,129.9H306.4M302.8,126.3V133.5M300.2,127.3L305.3,132.4M300.2,132.4L305.3,127.3" stroke="#2c2c96" stroke-width="1.2" fill="none"/><path d="M296.2,129.1H303.4M299.8,125.5V132.7M297.2,126.5L302.3,131.6M297.2,131.6L302.3,126.5" stroke="#2c2c96" stroke-width="1.2" fill="none"/><path d="M186.0,123.9H193.2M189.6,120.3V127.5M187.0,121.3L192.1,126.4M187.0,126.4L192.1,121.3" stroke="#2c2c96" stroke-width="1.2" fill="none"/><path d="M213.6,106.3H220.8M217.2,102.7V109.9M214.6,103.8L219.7,108.9M214.6,108.9L219.7,103.8" stroke="#2c2c96" stroke-width="1.2" fill="none"/><path d="M375.5,98.0H382.7M379.1,94.4V101.6M376.5,95.4L381.6,100.5M376.5,100.5L381.6,95.4" stroke="#2c2c96" stroke-width="1.2" fill="none"/><rect x="155.8" y="151.0" width="4.6" height="4.6" fill="#6d2590" stroke="#111" stroke-width="0.9"/><rect x="175.1" y="125.2" width="4.6" height="4.6" fill="#6d2590" stroke="#111" stroke-width="0.9"/><rect x="264.3" y="108.9" width="4.6" height="4.6" fill="#6d2590" stroke="#111" stroke-width="0.9"/><rect x="233.7" y="104.7" width="4.6" height="4.6" fill="#6d2590" stroke="#111" stroke-width="0.9"/><rect x="240.9" y="106.3" width="4.6" height="4.6" fill="#6d2590" stroke="#111" stroke-width="0.9"/><rect x="209.6" y="102.7" width="4.6" height="4.6" fill="#6d2590" stroke="#111" stroke-width="0.9"/><rect x="167.7" y="143.3" width="4.6" height="4.6" fill="#6d2590" stroke="#111" stroke-width="0.9"/><rect x="192.9" y="110.8" width="4.6" height="4.6" fill="#6d2590" stroke="#111" stroke-width="0.9"/><rect x="175.6" y="136.7" width="4.6" height="4.6" fill="#6d2590" stroke="#111" stroke-width="0.9"/><rect x="213.0" y="93.4" width="4.6" height="4.6" fill="#6d2590" stroke="#111" stroke-width="0.9"/><rect x="271.1" y="113.4" width="4.6" height="4.6" fill="#6d2590" stroke="#111" stroke-width="0.9"/><rect x="91.8" y="117.8" width="4.6" height="4.6" fill="#6d2590" stroke="#111" stroke-width="0.9"/><rect x="176.9" y="140.6" width="4.6" height="4.6" fill="#6d2590" stroke="#111" stroke-width="0.9"/><rect x="256.7" y="103.4" width="4.6" height="4.6" fill="#6d2590" stroke="#111" stroke-width="0.9"/><rect x="141.4" y="143.3" width="4.6" height="4.6" fill="#6d2590" stroke="#111" stroke-width="0.9"/><rect x="298.1" y="136.7" width="4.6" height="4.6" fill="#6d2590" stroke="#111" stroke-width="0.9"/><rect x="166.5" y="142.3" width="4.6" height="4.6" fill="#6d2590" stroke="#111" stroke-width="0.9"/><rect x="243.9" y="103.1" width="4.6" height="4.6" fill="#6d2590" stroke="#111" stroke-width="0.9"/><rect x="274.5" y="110.8" width="4.6" height="4.6" fill="#6d2590" stroke="#111" stroke-width="0.9"/><rect x="87.1" y="123.4" width="4.6" height="4.6" fill="#6d2590" stroke="#111" stroke-width="0.9"/><rect x="91.1" y="120.9" width="4.6" height="4.6" fill="#6d2590" stroke="#111" stroke-width="0.9"/><rect x="227.7" y="96.3" width="4.6" height="4.6" fill="#6d2590" stroke="#111" stroke-width="0.9"/><path d="M67.5,114.4L72.9,114.4L70.2,109.2Z" fill="#6d2590" stroke="#111" stroke-width="0.6"/><path d="M82.9,106.2L88.3,106.2L85.6,101.0Z" fill="#6d2590" stroke="#111" stroke-width="0.6"/><path d="M131.1,150.4L136.5,150.4L133.8,145.2Z" fill="#6d2590" stroke="#111" stroke-width="0.6"/><path d="M143.8,154.0L149.2,154.0L146.5,148.8Z" fill="#6d2590" stroke="#111" stroke-width="0.6"/><path d="M205.7,118.4L211.1,118.4L208.4,113.2Z" fill="#6d2590" stroke="#111" stroke-width="0.6"/><path d="M248.3,95.2L253.7,95.2L251.0,90.0Z" fill="#6d2590" stroke="#111" stroke-width="0.6"/><path d="M283.6,133.0L289.0,133.0L286.3,127.8Z" fill="#6d2590" stroke="#111" stroke-width="0.6"/><path d="M338.3,146.5L343.7,146.5L341.0,141.3Z" fill="#6d2590" stroke="#111" stroke-width="0.6"/><path d="M384.0,118.8L389.4,118.8L386.7,113.6Z" fill="#6d2590" stroke="#111" stroke-width="0.6"/><path d="M391.6,115.1L397.0,115.1L394.3,109.9Z" fill="#6d2590" stroke="#111" stroke-width="0.6"/><path d="M406.2,108.8L411.6,108.8L408.9,103.6Z" fill="#6d2590" stroke="#111" stroke-width="0.6"/><path d="M136.0,135.7L141.4,135.7L138.7,130.5Z" fill="#7a1818" stroke="#111" stroke-width="0.6"/><path d="M258.0,126.9L263.4,126.9L260.7,121.7Z" fill="#7a1818" stroke="#111" stroke-width="0.6"/><path d="M273.9,131.8L279.3,131.8L276.6,126.6Z" fill="#7a1818" stroke="#111" stroke-width="0.6"/><path d="M285.3,122.4L290.7,122.4L288.0,117.2Z" fill="#7a1818" stroke="#111" stroke-width="0.6"/><path d="M287.3,129.4L292.7,129.4L290.0,124.2Z" fill="#7a1818" stroke="#111" stroke-width="0.6"/><path d="M287.2,137.0L292.6,137.0L289.9,131.8Z" fill="#7a1818" stroke="#111" stroke-width="0.6"/><path d="M294.5,151.7L299.9,151.7L297.2,146.5Z" fill="#7a1818" stroke="#111" stroke-width="0.6"/><path d="M306.7,159.0L312.1,159.0L309.4,153.8Z" fill="#7a1818" stroke="#111" stroke-width="0.6"/><path d="M78.0,109.8L83.4,109.8L80.7,104.6Z" fill="#050505" stroke="#111" stroke-width="0.6"/><path d="M135.2,160.1L140.6,160.1L137.9,154.9Z" fill="#050505" stroke="#111" stroke-width="0.6"/><path d="M146.2,144.2L151.6,144.2L148.9,139.0Z" fill="#050505" stroke="#111" stroke-width="0.6"/><path d="M147.3,142.4L152.7,142.4L150.0,137.2Z" fill="#050505" stroke="#111" stroke-width="0.6"/><path d="M157.3,168.4L162.7,168.4L160.0,163.2Z" fill="#050505" stroke="#111" stroke-width="0.6"/><path d="M174.1,147.4L179.5,147.4L176.8,142.2Z" fill="#050505" stroke="#111" stroke-width="0.6"/><path d="M209.3,94.0L214.7,94.0L212.0,88.8Z" fill="#050505" stroke="#111" stroke-width="0.6"/><path d="M232.5,108.6L237.9,108.6L235.2,103.4Z" fill="#050505" stroke="#111" stroke-width="0.6"/><path d="M361.4,107.4L366.8,107.4L364.1,102.2Z" fill="#050505" stroke="#111" stroke-width="0.6"/><path d="M354.1,114.7L359.5,114.7L356.8,109.5Z" fill="#050505" stroke="#111" stroke-width="0.6"/><path d="M384.0,98.4L389.4,98.4L386.7,93.2Z" fill="#050505" stroke="#111" stroke-width="0.6"/><path d="M375.3,117.4L380.7,117.4L378.0,112.2Z" fill="#050505" stroke="#111" stroke-width="0.6"/><path d="M401.5,110.0L406.9,110.0L404.2,104.8Z" fill="#050505" stroke="#111" stroke-width="0.6"/><path d="M424.1,120.4L429.5,120.4L426.8,115.2Z" fill="#050505" stroke="#111" stroke-width="0.6"/><path d="M420.5,118.8L425.9,118.8L423.2,113.6Z" fill="#050505" stroke="#111" stroke-width="0.6"/><path d="M114.5,112.4L119.9,112.4L117.2,107.2Z" fill="#050505" stroke="#111" stroke-width="0.6"/><path d="M154.3,167.0L159.7,167.0L157.0,161.8Z" fill="#e8202c" stroke="#111" stroke-width="0.6"/><path d="M219.6,94.0L225.0,94.0L222.3,88.8Z" fill="#e8202c" stroke="#111" stroke-width="0.6"/><path d="M192.3,109.8L197.7,109.8L195.0,104.6Z" fill="#e8202c" stroke="#111" stroke-width="0.6"/><path d="M326.2,152.9L331.6,152.9L328.9,147.7Z" fill="#e8202c" stroke="#111" stroke-width="0.6"/><path d="M412.3,107.4L417.7,107.4L415.0,102.2Z" fill="#e8202c" stroke="#111" stroke-width="0.6"/><path d="M415.3,112.4L420.7,112.4L418.0,107.2Z" fill="#e8202c" stroke="#111" stroke-width="0.6"/><path d="M92.3,112.4L97.7,112.4L95.0,107.2Z" fill="#e8202c" stroke="#111" stroke-width="0.6"/><path d="M87.8,114.4L93.2,114.4L90.5,109.2Z" fill="#e8202c" stroke="#111" stroke-width="0.6"/><path d="M118.2,111.1L123.6,111.1L120.9,105.9Z" fill="#e8202c" stroke="#111" stroke-width="0.6"/><path d="M79.3,124.6L84.7,124.6L82.0,129.8Z" fill="#2a46a8" stroke="#111" stroke-width="0.6"/><path d="M245.8,111.1L251.2,111.1L248.5,116.3Z" fill="#2a46a8" stroke="#111" stroke-width="0.6"/><path d="M245.8,105.0L251.2,105.0L248.5,110.2Z" fill="#2a46a8" stroke="#111" stroke-width="0.6"/><path d="M343.2,108.7L348.6,108.7L345.9,113.9Z" fill="#2a46a8" stroke="#111" stroke-width="0.6"/><path d="M84.4,124.4L86.9,127.0L84.4,129.6L81.9,127.0Z" fill="#000000" stroke="#111" stroke-width="0.4"/><path d="M95.4,124.4L97.9,127.0L95.4,129.6L92.9,127.0Z" fill="#000000" stroke="#111" stroke-width="0.4"/><path d="M134.3,147.8L136.8,150.4L134.3,153.0L131.8,150.4Z" fill="#000000" stroke="#111" stroke-width="0.4"/><path d="M142.8,163.6L145.3,166.2L142.8,168.8L140.3,166.2Z" fill="#000000" stroke="#111" stroke-width="0.4"/><path d="M147.7,170.9L150.2,173.5L147.7,176.1L145.2,173.5Z" fill="#000000" stroke="#111" stroke-width="0.4"/><path d="M155.0,142.4L157.5,145.0L155.0,147.6L152.5,145.0Z" fill="#000000" stroke="#111" stroke-width="0.4"/><path d="M213.3,81.7L215.8,84.3L213.3,86.9L210.8,84.3Z" fill="#000000" stroke="#111" stroke-width="0.4"/><path d="M196.2,86.5L198.7,89.1L196.2,91.7L193.7,89.1Z" fill="#000000" stroke="#111" stroke-width="0.4"/><path d="M418.3,125.2L420.8,127.8L418.3,130.4L415.8,127.8Z" fill="#000000" stroke="#111" stroke-width="0.4"/><path d="M108.7,105.4L111.2,108.0L108.7,110.6L106.2,108.0Z" fill="#000000" stroke="#111" stroke-width="0.4"/><path d="M113.9,107.4H120.5M117.2,104.4V110.4" stroke="#8a1a1a" stroke-width="1.7" fill="none"/><rect x="125.9" y="131.0" width="4.6" height="4.6" fill="#1f8a3e" stroke="#111" stroke-width="0.9"/><rect x="209.7" y="103.9" width="4.6" height="4.6" fill="#1f8a3e" stroke="#111" stroke-width="0.9"/><rect x="215.1" y="101.0" width="4.6" height="4.6" fill="#1f8a3e" stroke="#111" stroke-width="0.9"/><rect x="219.0" y="104.4" width="4.6" height="4.6" fill="#1f8a3e" stroke="#111" stroke-width="0.9"/><rect x="254.7" y="110.0" width="4.6" height="4.6" fill="#1f8a3e" stroke="#111" stroke-width="0.9"/><rect x="263.3" y="102.7" width="4.6" height="4.6" fill="#1f8a3e" stroke="#111" stroke-width="0.9"/><rect x="309.5" y="142.1" width="4.6" height="4.6" fill="#1f8a3e" stroke="#111" stroke-width="0.9"/><rect x="331.5" y="132.2" width="4.6" height="4.6" fill="#1f8a3e" stroke="#111" stroke-width="0.9"/><rect x="339.9" y="112.5" width="4.6" height="4.6" fill="#1f8a3e" stroke="#111" stroke-width="0.9"/><rect x="337.5" y="123.4" width="4.6" height="4.6" fill="#1f8a3e" stroke="#111" stroke-width="0.9"/><rect x="342.3" y="118.6" width="4.6" height="4.6" fill="#1f8a3e" stroke="#111" stroke-width="0.9"/><rect x="330.1" y="133.3" width="4.6" height="4.6" fill="#1f8a3e" stroke="#111" stroke-width="0.9"/><rect x="336.2" y="126.0" width="4.6" height="4.6" fill="#1f8a3e" stroke="#111" stroke-width="0.9"/><rect x="416.6" y="114.1" width="4.6" height="4.6" fill="#1f8a3e" stroke="#111" stroke-width="0.9"/><path d="M98.4,94.0H105.6M102.0,90.4V97.6M99.5,91.5L104.5,96.5M99.5,96.5L104.5,91.5" stroke="#2c2c96" stroke-width="1.2" fill="none"/><path d="M180.4,114.6H187.6M184.0,111.0V118.2M181.4,112.0L186.6,117.1M181.4,117.1L186.6,112.0" stroke="#2c2c96" stroke-width="1.2" fill="none"/><path d="M187.9,126.8H195.1M191.5,123.2V130.4M188.9,124.2L194.1,129.3M188.9,129.3L194.1,124.2" stroke="#2c2c96" stroke-width="1.2" fill="none"/><path d="M172.0,134.0H179.2M175.6,130.4V137.6M173.0,131.4L178.2,136.6M173.0,136.6L178.2,131.4" stroke="#2c2c96" stroke-width="1.2" fill="none"/><path d="M151.4,133.0H158.6M155.0,129.4V136.6M152.4,130.4L157.6,135.6M152.4,135.6L157.6,130.4" stroke="#2c2c96" stroke-width="1.2" fill="none"/><path d="M198.2,97.7H205.4M201.8,94.1V101.3M199.2,95.2L204.4,100.2M199.2,100.2L204.4,95.2" stroke="#2c2c96" stroke-width="1.2" fill="none"/><path d="M211.4,113.5H218.6M215.0,109.9V117.1M212.4,111.0L217.6,116.0M212.4,116.0L217.6,111.0" stroke="#2c2c96" stroke-width="1.2" fill="none"/><path d="M228.0,101.3H235.2M231.6,97.7V104.9M229.0,98.8L234.2,103.8M229.0,103.8L234.2,98.8" stroke="#2c2c96" stroke-width="1.2" fill="none"/><path d="M179.4,113.5H186.6M183.0,109.9V117.1M180.4,111.0L185.6,116.0M180.4,116.0L185.6,111.0" stroke="#2c2c96" stroke-width="1.2" fill="none"/><path d="M303.4,138.3H310.6M307.0,134.7V141.9M304.4,135.8L309.6,140.9M304.4,140.9L309.6,135.8" stroke="#2c2c96" stroke-width="1.2" fill="none"/><path d="M315.5,160.2H322.7M319.1,156.6V163.8M316.6,157.6L321.7,162.8M316.6,162.8L321.7,157.6" stroke="#2c2c96" stroke-width="1.2" fill="none"/><path d="M326.5,161.5H333.7M330.1,157.9V165.1M327.6,158.9L332.7,164.1M327.6,164.1L332.7,158.9" stroke="#2c2c96" stroke-width="1.2" fill="none"/><path d="M320.4,149.3H327.6M324.0,145.7V152.9M321.4,146.8L326.6,151.9M321.4,151.9L326.6,146.8" stroke="#2c2c96" stroke-width="1.2" fill="none"/><path d="M371.5,91.6H378.7M375.1,88.0V95.2M372.6,89.0L377.7,94.1M372.6,94.1L377.7,89.0" stroke="#2c2c96" stroke-width="1.2" fill="none"/><path d="M367.4,110.6H374.6M371.0,107.0V114.2M368.4,108.0L373.6,113.1M368.4,113.1L373.6,108.0" stroke="#2c2c96" stroke-width="1.2" fill="none"/><path d="M350.8,100.1H358.0M354.4,96.5V103.7M351.8,97.5L356.9,102.6M351.8,102.6L356.9,97.5" stroke="#2c2c96" stroke-width="1.2" fill="none"/><path d="M328.8,161.2H336.0M332.4,157.6V164.8M329.8,158.6L334.9,163.8M329.8,163.8L334.9,158.6" stroke="#2c2c96" stroke-width="1.2" fill="none"/><path d="M333.7,149.0H340.9M337.3,145.4V152.6M334.8,146.4L339.9,151.6M334.8,151.6L339.9,146.4" stroke="#2c2c96" stroke-width="1.2" fill="none"/><path d="M337.4,141.7H344.6M341.0,138.1V145.3M338.4,139.1L343.6,144.2M338.4,144.2L343.6,139.1" stroke="#2c2c96" stroke-width="1.2" fill="none"/><path d="M377.2,104.7H384.4M380.8,101.1V108.3M378.2,102.2L383.4,107.2M378.2,107.2L383.4,102.2" stroke="#2c2c96" stroke-width="1.2" fill="none"/><path d="M403.6,125.2H410.8M407.2,121.6V128.8M404.6,122.7L409.8,127.8M404.6,127.8L409.8,122.7" stroke="#2c2c96" stroke-width="1.2" fill="none"/><path d="M422.6,94.5H429.8M426.2,90.9V98.1M423.6,92.0L428.8,97.0M423.6,97.0L428.8,92.0" stroke="#2c2c96" stroke-width="1.2" fill="none"/><rect x="67.9" y="113.7" width="4.6" height="4.6" fill="#6d2590" stroke="#111" stroke-width="0.9"/><rect x="80.9" y="121.0" width="4.6" height="4.6" fill="#6d2590" stroke="#111" stroke-width="0.9"/><rect x="93.7" y="133.2" width="4.6" height="4.6" fill="#6d2590" stroke="#111" stroke-width="0.9"/><rect x="99.7" y="129.5" width="4.6" height="4.6" fill="#6d2590" stroke="#111" stroke-width="0.9"/><rect x="102.7" y="118.5" width="4.6" height="4.6" fill="#6d2590" stroke="#111" stroke-width="0.9"/><rect x="169.7" y="137.7" width="4.6" height="4.6" fill="#6d2590" stroke="#111" stroke-width="0.9"/><rect x="174.7" y="146.7" width="4.6" height="4.6" fill="#6d2590" stroke="#111" stroke-width="0.9"/><rect x="161.7" y="149.7" width="4.6" height="4.6" fill="#6d2590" stroke="#111" stroke-width="0.9"/><rect x="171.7" y="154.7" width="4.6" height="4.6" fill="#6d2590" stroke="#111" stroke-width="0.9"/><rect x="202.0" y="111.2" width="4.6" height="4.6" fill="#6d2590" stroke="#111" stroke-width="0.9"/><rect x="241.4" y="102.7" width="4.6" height="4.6" fill="#6d2590" stroke="#111" stroke-width="0.9"/><rect x="271.7" y="105.1" width="4.6" height="4.6" fill="#6d2590" stroke="#111" stroke-width="0.9"/><rect x="277.9" y="110.0" width="4.6" height="4.6" fill="#6d2590" stroke="#111" stroke-width="0.9"/><rect x="288.8" y="109.0" width="4.6" height="4.6" fill="#6d2590" stroke="#111" stroke-width="0.9"/><rect x="294.9" y="118.7" width="4.6" height="4.6" fill="#6d2590" stroke="#111" stroke-width="0.9"/><rect x="292.5" y="120.1" width="4.6" height="4.6" fill="#6d2590" stroke="#111" stroke-width="0.9"/><rect x="301.7" y="153.1" width="4.6" height="4.6" fill="#6d2590" stroke="#111" stroke-width="0.9"/><rect x="316.4" y="142.1" width="4.6" height="4.6" fill="#6d2590" stroke="#111" stroke-width="0.9"/><rect x="321.7" y="148.2" width="4.6" height="4.6" fill="#6d2590" stroke="#111" stroke-width="0.9"/><rect x="385.9" y="111.2" width="4.6" height="4.6" fill="#6d2590" stroke="#111" stroke-width="0.9"/><rect x="391.7" y="114.1" width="4.6" height="4.6" fill="#6d2590" stroke="#111" stroke-width="0.9"/><rect x="387.3" y="106.7" width="4.6" height="4.6" fill="#6d2590" stroke="#111" stroke-width="0.9"/><rect x="404.9" y="119.9" width="4.6" height="4.6" fill="#6d2590" stroke="#111" stroke-width="0.9"/><rect x="405.4" y="124.3" width="4.6" height="4.6" fill="#6d2590" stroke="#111" stroke-width="0.9"/><rect x="418.0" y="130.2" width="4.6" height="4.6" fill="#6d2590" stroke="#111" stroke-width="0.9"/><rect x="423.9" y="129.6" width="4.6" height="4.6" fill="#6d2590" stroke="#111" stroke-width="0.9"/><rect x="412.9" y="107.7" width="4.6" height="4.6" fill="#6d2590" stroke="#111" stroke-width="0.9"/><rect x="391.1" y="114.8" width="4.6" height="4.6" fill="#6d2590" stroke="#111" stroke-width="0.9"/><rect x="416.6" y="132.7" width="4.6" height="4.6" fill="#6d2590" stroke="#111" stroke-width="0.9"/><path d="M72.0,114.50 L73.0,114.57 L74.0,114.64 L75.0,114.71 L76.0,114.78 L77.0,114.85 L78.0,114.92 L79.0,115.00 L80.0,115.08 L81.0,115.16 L82.0,115.24 L83.0,115.32 L84.0,115.41 L85.0,115.50 L86.0,115.59 L87.0,115.69 L88.0,115.80 L89.0,115.91 L90.0,116.04 L91.0,116.17 L92.0,116.31 L93.0,116.46 L94.0,116.63 L95.0,116.82 L96.0,117.02 L97.0,117.23 L98.0,117.47 L99.0,117.72 L100.0,118.00 L101.0,118.30 L102.0,118.62 L103.0,118.96 L104.0,119.31 L105.0,119.68 L106.0,120.07 L107.0,120.47 L108.0,120.89 L109.0,121.31 L110.0,121.74 L111.0,122.19 L112.0,122.63 L113.0,123.09 L114.0,123.54 L115.0,124.00 L116.0,124.46 L117.0,124.93 L118.0,125.41 L119.0,125.91 L120.0,126.44 L121.0,127.00 L122.0,127.60 L123.0,128.24 L124.0,128.94 L125.0,129.70 L126.0,130.52 L127.0,131.39 L128.0,132.31 L129.0,133.26 L130.0,134.23 L131.0,135.21 L132.0,136.19 L133.0,137.15 L134.0,138.09 L135.0,139.00 L136.0,139.86 L137.0,140.69 L138.0,141.48 L139.0,142.25 L140.0,143.00 L141.0,143.75 L142.0,144.50 L143.0,145.25 L144.0,146.01 L145.0,146.75 L146.0,147.47 L147.0,148.17 L148.0,148.83 L149.0,149.44 L150.0,150.00 L151.0,150.50 L152.0,150.92 L153.0,151.29 L154.0,151.58 L155.0,151.80 L156.0,151.94 L157.0,152.01 L158.0,152.00 L159.0,151.91 L160.0,151.74 L161.0,151.49 L162.0,151.16 L163.0,150.74 L164.0,150.24 L165.0,149.66 L166.0,149.00 L167.0,148.25 L168.0,147.43 L169.0,146.52 L170.0,145.55 L171.0,144.50 L172.0,143.39 L173.0,142.23 L174.0,141.00 L175.0,139.72 L176.0,138.39 L177.0,137.01 L178.0,135.59 L179.0,134.13 L180.0,132.62 L181.0,131.08 L182.0,129.50 L183.0,127.89 L184.0,126.27 L185.0,124.64 L186.0,123.04 L187.0,121.47 L188.0,119.95 L189.0,118.50 L190.0,117.13 L191.0,115.85 L192.0,114.65 L193.0,113.52 L194.0,112.47 L195.0,111.50 L196.0,110.60 L197.0,109.76 L198.0,108.97 L199.0,108.24 L200.0,107.53 L201.0,106.86 L202.0,106.20 L203.0,105.55 L204.0,104.93 L205.0,104.32 L206.0,103.75 L207.0,103.22 L208.0,102.73 L209.0,102.30 L210.0,101.93 L211.0,101.61 L212.0,101.35 L213.0,101.13 L214.0,100.95 L215.0,100.81 L216.0,100.70 L217.0,100.61 L218.0,100.55 L219.0,100.51 L220.0,100.49 L221.0,100.49 L222.0,100.50 L223.0,100.53 L224.0,100.58 L225.0,100.63 L226.0,100.70 L227.0,100.78 L228.0,100.86 L229.0,100.96 L230.0,101.06 L231.0,101.18 L232.0,101.30 L233.0,101.43 L234.0,101.57 L235.0,101.72 L236.0,101.88 L237.0,102.04 L238.0,102.22 L239.0,102.40 L240.0,102.59 L241.0,102.79 L242.0,103.00 L243.0,103.22 L244.0,103.44 L245.0,103.67 L246.0,103.90 L247.0,104.14 L248.0,104.38 L249.0,104.63 L250.0,104.87 L251.0,105.12 L252.0,105.36 L253.0,105.61 L254.0,105.85 L255.0,106.09 L256.0,106.33 L257.0,106.56 L258.0,106.78 L259.0,107.00 L260.0,107.21 L261.0,107.42 L262.0,107.62 L263.0,107.83 L264.0,108.05 L265.0,108.28 L266.0,108.52 L267.0,108.78 L268.0,109.06 L269.0,109.36 L270.0,109.70 L271.0,110.07 L272.0,110.47 L273.0,110.91 L274.0,111.39 L275.0,111.91 L276.0,112.48 L277.0,113.08 L278.0,113.74 L279.0,114.44 L280.0,115.20 L281.0,116.01 L282.0,116.86 L283.0,117.77 L284.0,118.71 L285.0,119.69 L286.0,120.70 L287.0,121.74 L288.0,122.81 L289.0,123.90 L290.0,125.00 L291.0,126.12 L292.0,127.25 L293.0,128.38 L294.0,129.53 L295.0,130.68 L296.0,131.84 L297.0,133.00 L298.0,134.17 L299.0,135.34 L300.0,136.50 L301.0,137.66 L302.0,138.81 L303.0,139.95 L304.0,141.06 L305.0,142.14 L306.0,143.18 L307.0,144.18 L308.0,145.12 L309.0,146.00 L310.0,146.82 L311.0,147.57 L312.0,148.26 L313.0,148.89 L314.0,149.48 L315.0,150.01 L316.0,150.50 L317.0,150.95 L318.0,151.35 L319.0,151.69 L320.0,151.97 L321.0,152.17 L322.0,152.30 L323.0,152.34 L324.0,152.29 L325.0,152.14 L326.0,151.89 L327.0,151.54 L328.0,151.07 L329.0,150.50 L330.0,149.81 L331.0,148.99 L332.0,148.02 L333.0,146.91 L334.0,145.62 L335.0,144.16 L336.0,142.50 L337.0,140.64 L338.0,138.61 L339.0,136.44 L340.0,134.15 L341.0,131.78 L342.0,129.36 L343.0,126.93 L344.0,124.50 L345.0,122.11 L346.0,119.80 L347.0,117.57 L348.0,115.45 L349.0,113.47 L350.0,111.64 L351.0,110.00 L352.0,108.56 L353.0,107.29 L354.0,106.20 L355.0,105.24 L356.0,104.40 L357.0,103.66 L358.0,103.00 L359.0,102.40 L360.0,101.86 L361.0,101.38 L362.0,100.97 L363.0,100.63 L364.0,100.38 L365.0,100.20 L366.0,100.11 L367.0,100.09 L368.0,100.14 L369.0,100.25 L370.0,100.40 L371.0,100.59 L372.0,100.80 L373.0,101.03 L374.0,101.30 L375.0,101.61 L376.0,101.99 L377.0,102.44 L378.0,103.00 L379.0,103.66 L380.0,104.42 L381.0,105.25 L382.0,106.12 L383.0,107.03 L384.0,107.94 L385.0,108.84 L386.0,109.70 L387.0,110.50 L388.0,111.23 L389.0,111.88 L390.0,112.47 L391.0,113.00 L392.0,113.46 L393.0,113.87 L394.0,114.23 L395.0,114.55 L396.0,114.83 L397.0,115.08 L398.0,115.30 L399.0,115.50 L400.0,115.67 L401.0,115.82 L402.0,115.95 L403.0,116.07 L404.0,116.17 L405.0,116.25 L406.0,116.33 L407.0,116.38 L408.0,116.43 L409.0,116.47 L410.0,116.50 L411.0,116.52 L412.0,116.54 L413.0,116.55 L414.0,116.56 L415.0,116.56 L416.0,116.56 L417.0,116.56 L418.0,116.55 L419.0,116.54 L420.0,116.53 L421.0,116.51 L422.0,116.50" stroke="#000" stroke-width="1.5" fill="none"/>
<rect x="46" y="0" width="2" height="297" fill="#3a3a3a"/>
<rect x="448" y="0" width="2" height="297" fill="#151515"/>
<rect x="46" y="0" width="404" height="1.6" fill="#333"/>
<rect x="46" y="295" width="404" height="1.9" fill="#3c3c3c"/>
<g stroke="#6a6a6a" stroke-width="1.1">
<line x1="48" y1="17.20" x2="53" y2="17.20"/>
<line x1="444" y1="17.20" x2="448" y2="17.20"/>
<line x1="48" y1="37.47" x2="53" y2="37.47"/>
<line x1="444" y1="37.47" x2="448" y2="37.47"/>
<line x1="48" y1="57.73" x2="53" y2="57.73"/>
<line x1="444" y1="57.73" x2="448" y2="57.73"/>
<line x1="48" y1="77.99" x2="53" y2="77.99"/>
<line x1="444" y1="77.99" x2="448" y2="77.99"/>
<line x1="48" y1="98.26" x2="53" y2="98.26"/>
<line x1="444" y1="98.26" x2="448" y2="98.26"/>
<line x1="48" y1="118.53" x2="53" y2="118.53"/>
<line x1="444" y1="118.53" x2="448" y2="118.53"/>
<line x1="48" y1="138.79" x2="53" y2="138.79"/>
<line x1="444" y1="138.79" x2="448" y2="138.79"/>
<line x1="48" y1="159.06" x2="53" y2="159.06"/>
<line x1="444" y1="159.06" x2="448" y2="159.06"/>
<line x1="48" y1="179.32" x2="53" y2="179.32"/>
<line x1="444" y1="179.32" x2="448" y2="179.32"/>
<line x1="48" y1="199.58" x2="53" y2="199.58"/>
<line x1="444" y1="199.58" x2="448" y2="199.58"/>
<line x1="48" y1="219.85" x2="53" y2="219.85"/>
<line x1="444" y1="219.85" x2="448" y2="219.85"/>
<line x1="48" y1="240.12" x2="53" y2="240.12"/>
<line x1="444" y1="240.12" x2="448" y2="240.12"/>
<line x1="48" y1="260.38" x2="53" y2="260.38"/>
<line x1="444" y1="260.38" x2="448" y2="260.38"/>
<line x1="86.70" y1="1.5" x2="86.70" y2="5.5"/>
<line x1="86.70" y1="291" x2="86.70" y2="295"/>
<line x1="119.08" y1="1.5" x2="119.08" y2="5.5"/>
<line x1="119.08" y1="291" x2="119.08" y2="295"/>
<line x1="151.46" y1="1.5" x2="151.46" y2="5.5"/>
<line x1="151.46" y1="291" x2="151.46" y2="295"/>
<line x1="183.84" y1="1.5" x2="183.84" y2="5.5"/>
<line x1="183.84" y1="291" x2="183.84" y2="295"/>
<line x1="216.22" y1="1.5" x2="216.22" y2="5.5"/>
<line x1="216.22" y1="291" x2="216.22" y2="295"/>
<line x1="248.60" y1="1.5" x2="248.60" y2="5.5"/>
<line x1="248.60" y1="291" x2="248.60" y2="295"/>
<line x1="280.98" y1="1.5" x2="280.98" y2="5.5"/>
<line x1="280.98" y1="291" x2="280.98" y2="295"/>
<line x1="313.36" y1="1.5" x2="313.36" y2="5.5"/>
<line x1="313.36" y1="291" x2="313.36" y2="295"/>
<line x1="345.74" y1="1.5" x2="345.74" y2="5.5"/>
<line x1="345.74" y1="291" x2="345.74" y2="295"/>
<line x1="378.12" y1="1.5" x2="378.12" y2="5.5"/>
<line x1="378.12" y1="291" x2="378.12" y2="295"/>
<line x1="410.50" y1="1.5" x2="410.50" y2="5.5"/>
<line x1="410.50" y1="291" x2="410.50" y2="295"/>
</g>
<g font-size="11.4" text-anchor="end" fill="#000">
<text x="44.2" y="21.20">16.65</text>
<text x="44.2" y="41.47">16.70</text>
<text x="44.2" y="61.73">16.75</text>
<text x="44.2" y="81.99">16.80</text>
<text x="44.2" y="102.26">16.85</text>
<text x="44.2" y="122.53">16.90</text>
<text x="44.2" y="142.79">16.95</text>
<text x="44.2" y="163.06">17.00</text>
<text x="44.2" y="183.32">17.05</text>
<text x="44.2" y="203.58">17.10</text>
<text x="44.2" y="223.85">17.15</text>
<text x="44.2" y="244.12">17.20</text>
<text x="44.2" y="264.38">17.25</text>
</g>
<g font-size="11.4" text-anchor="middle" fill="#000">
<text x="86.70" y="308.0">0.00</text>
<text x="119.08" y="308.0">0.10</text>
<text x="151.46" y="308.0">0.20</text>
<text x="183.84" y="308.0">0.30</text>
<text x="216.22" y="308.0">0.40</text>
<text x="248.60" y="308.0">0.50</text>
<text x="280.98" y="308.0">0.60</text>
<text x="313.36" y="308.0">0.70</text>
<text x="345.74" y="308.0">0.80</text>
<text x="378.12" y="308.0">0.90</text>
<text x="410.50" y="308.0">1.00</text>
</g>
<text font-size="11.3" fill="#000" transform="translate(10.1,246.8) rotate(-90)" textLength="195" lengthAdjust="spacingAndGlyphs">Reduced Magnitude(V) alpha(21.3°)</text>
<text x="160" y="24.2" font-size="17" fill="#000" textLength="176.5" lengthAdjust="spacingAndGlyphs">(53440) 1999 XQ33</text>
<text x="139.5" y="40.7" font-size="11.3" fill="#000" textLength="220" lengthAdjust="spacingAndGlyphs" xml:space="preserve">Period: 5.3276 ± 0.0005 h  Amp: 0.14</text>
<text x="57" y="287.4" font-size="11.6" fill="#000" textLength="160" lengthAdjust="spacingAndGlyphs">JDo(LTC): 2458643.679522</text>
<rect x="351.5" y="165.5" width="71" height="124.5" fill="#000"/>
<rect x="349.5" y="163.6" width="71" height="124" fill="#fff" stroke="#333" stroke-width="1"/>
<text x="366.5" y="172.4" font-size="8.6" fill="#000">Year: 2019</text>
<path d="M355.60,182.36L361.00,182.36L358.30,176.96Z" fill="#6a1f8a" stroke="#111" stroke-width="0.5599999999999999"/>
<text x="366.5" y="182.60" font-size="8.5" fill="#000">16890 - 06/09</text>
<path d="M355.60,192.53L361.00,192.53L358.30,187.13Z" fill="#7a1515" stroke="#111" stroke-width="0.5599999999999999"/>
<text x="366.5" y="192.77" font-size="8.5" fill="#000">16906 - 06/10</text>
<path d="M355.60,202.70L361.00,202.70L358.30,197.30Z" fill="#000" stroke="#111" stroke-width="0.5599999999999999"/>
<text x="366.5" y="202.94" font-size="8.5" fill="#000">16914 - 06/11</text>
<path d="M355.60,212.87L361.00,212.87L358.30,207.47Z" fill="#e01b24" stroke="#111" stroke-width="0.5599999999999999"/>
<text x="366.5" y="213.11" font-size="8.5" fill="#000">16930 - 06/13</text>
<path d="M355.60,217.91L361.00,217.91L358.30,223.31Z" fill="#2a4aa0" stroke="#111" stroke-width="0.5599999999999999"/>
<text x="366.5" y="223.28" font-size="8.5" fill="#000">16931 - 06/19</text>
<path d="M358.30,227.50L361.30,230.65L358.30,233.80L355.30,230.65Z" fill="#000" stroke="#111" stroke-width="0.4"/>
<text x="366.5" y="233.45" font-size="8.5" fill="#000">16932 - 06/21</text>
<path d="M354.40,240.82H362.20M358.30,237.37V244.27" stroke="#7a1515" stroke-width="2" fill="none"/>
<text x="366.5" y="243.62" font-size="8.5" fill="#000">16933 - 06/22</text>
<rect x="355.45" y="248.14" width="5.70" height="5.70" fill="#1f8a3a" stroke="#111" stroke-width="0.8"/>
<text x="366.5" y="253.79" font-size="8.5" fill="#000">16934 - 06/23</text>
<path d="M354.85,261.16H361.75M358.30,258.16V264.16M355.90,258.76L360.70,263.56M355.90,263.56L360.70,258.76" stroke="#28288a" stroke-width="1.4" fill="none"/>
<text x="366.5" y="263.96" font-size="8.5" fill="#000">16935 - 06/24</text>
<rect x="355.45" y="268.48" width="5.70" height="5.70" fill="#6a1f8a" stroke="#111" stroke-width="0.8"/>
<text x="366.5" y="274.13" font-size="8.5" fill="#000">16936 - 06/25</text>
<line x1="351.7" y1="281.70" x2="364.3" y2="281.70" stroke="#000" stroke-width="1.5"/>
<text x="366" y="284.30" font-size="8.5" fill="#000">6th Order</text>
</svg></body></html>
